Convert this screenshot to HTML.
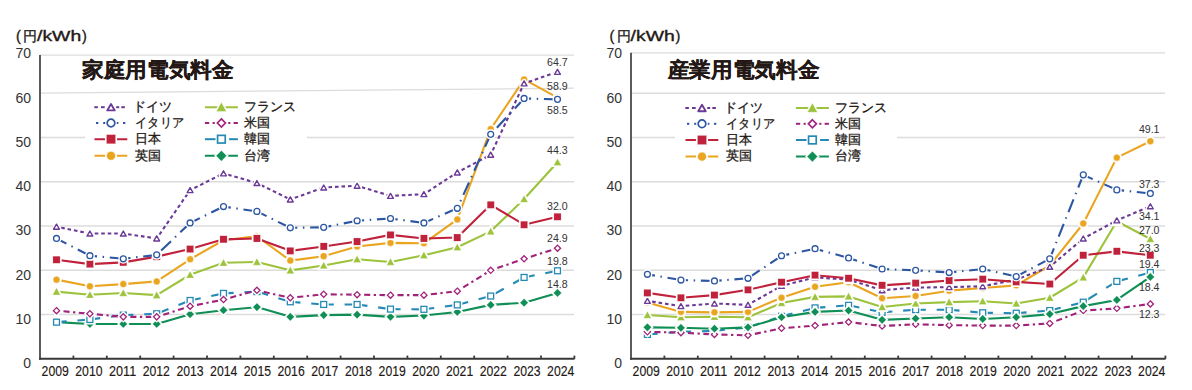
<!DOCTYPE html>
<html><head><meta charset="utf-8"><style>
html,body{margin:0;padding:0;background:#fff;width:1192px;height:390px;overflow:hidden}
svg{display:block;font-family:"Liberation Sans",sans-serif}
</style></head><body>
<svg width="1192" height="390" viewBox="0 0 1192 390">
<rect width="1192" height="390" fill="#fff"/>
<text x="16.00" y="41.3" font-size="14.5" text-anchor="start" font-weight="normal" fill="#231815" stroke="#231815" stroke-width="0.35">(</text>
<text x="23.30" y="41.0" font-size="14.0" text-anchor="start" font-weight="normal" fill="#231815" stroke="#231815" stroke-width="0.35">円</text>
<text x="37.00" y="41.3" font-size="14.5" text-anchor="start" font-weight="normal" fill="#231815" textLength="44.2" lengthAdjust="spacingAndGlyphs" stroke="#231815" stroke-width="0.35">/kWh</text>
<text x="82.00" y="41.3" font-size="14.5" text-anchor="start" font-weight="normal" fill="#231815" stroke="#231815" stroke-width="0.35">)</text>
<line x1="40" y1="314.50" x2="574" y2="314.50" stroke="#dcdcdc" stroke-width="1.3"/>
<line x1="40" y1="270.25" x2="574" y2="270.25" stroke="#dcdcdc" stroke-width="1.3"/>
<line x1="40" y1="226.00" x2="574" y2="226.00" stroke="#dcdcdc" stroke-width="1.3"/>
<line x1="40" y1="181.75" x2="574" y2="181.75" stroke="#dcdcdc" stroke-width="1.3"/>
<line x1="40" y1="137.50" x2="85" y2="137.50" stroke="#dcdcdc" stroke-width="1.3"/>
<line x1="307" y1="137.50" x2="574" y2="137.50" stroke="#dcdcdc" stroke-width="1.3"/>
<line x1="40" y1="93.1" x2="574" y2="88.2" stroke="#dcdcdc" stroke-width="1.3"/>
<line x1="40" y1="55.2" x2="574" y2="55.2" stroke="#dcdcdc" stroke-width="1.3"/>
<text x="31" y="368.30" font-size="14" text-anchor="end" font-weight="normal" fill="#333">0</text>
<text x="31" y="324.02" font-size="14" text-anchor="end" font-weight="normal" fill="#333">10</text>
<text x="31" y="279.74" font-size="14" text-anchor="end" font-weight="normal" fill="#333">20</text>
<text x="31" y="235.46" font-size="14" text-anchor="end" font-weight="normal" fill="#333">30</text>
<text x="31" y="191.18" font-size="14" text-anchor="end" font-weight="normal" fill="#333">40</text>
<text x="31" y="146.90" font-size="14" text-anchor="end" font-weight="normal" fill="#333">50</text>
<text x="31" y="102.62" font-size="14" text-anchor="end" font-weight="normal" fill="#333">60</text>
<text x="31" y="58.34" font-size="14" text-anchor="end" font-weight="normal" fill="#333">70</text>
<text x="82.00" y="77.0" font-size="21" text-anchor="start" font-weight="bold" fill="#231815" textLength="151.5" lengthAdjust="spacingAndGlyphs" stroke="#231815" stroke-width="0.25">家庭用電気料金</text>
<line x1="94.30" y1="107.2" x2="97.90" y2="107.2" stroke="#6b3a96" stroke-width="2.0"/><line x1="101.00" y1="107.2" x2="104.70" y2="107.2" stroke="#6b3a96" stroke-width="2.0"/><line x1="116.20" y1="107.2" x2="119.20" y2="107.2" stroke="#6b3a96" stroke-width="2.0"/><line x1="121.30" y1="107.2" x2="124.90" y2="107.2" stroke="#6b3a96" stroke-width="2.0"/><g transform="translate(111.00 107.20) scale(1.3)"><path d="M0.00 -2.50L2.90 2.50L-2.90 2.50Z" fill="#fff" stroke="#fff" stroke-width="3.25" stroke-linejoin="round"/><path d="M0.00 -2.50L2.90 2.50L-2.90 2.50Z" fill="#fff" stroke="#6b3a96" stroke-width="1.4" stroke-linejoin="round"/></g>
<text x="133.3" y="110.9" font-size="12.5" text-anchor="start" font-weight="normal" fill="#231815" stroke="#231815" stroke-width="0.3">ドイツ</text>
<line x1="96.00" y1="123.0" x2="98.30" y2="123.0" stroke="#2c56a1" stroke-width="2.0"/><line x1="103.20" y1="123.0" x2="106.00" y2="123.0" stroke="#2c56a1" stroke-width="2.0"/><line x1="116.00" y1="123.0" x2="118.40" y2="123.0" stroke="#2c56a1" stroke-width="2.0"/><line x1="123.00" y1="123.0" x2="125.30" y2="123.0" stroke="#2c56a1" stroke-width="2.0"/><g transform="translate(111.00 123.00) scale(1.3)"><circle cx="0.00" cy="0.00" r="2.95" fill="#fff" stroke="#fff" stroke-width="3.15"/><circle cx="0.00" cy="0.00" r="2.95" fill="#fff" stroke="#2c56a1" stroke-width="1.3"/></g>
<text x="135.3" y="126.7" font-size="12.5" text-anchor="start" font-weight="normal" fill="#231815" textLength="48.5" lengthAdjust="spacingAndGlyphs" stroke="#231815" stroke-width="0.3">イタリア</text>
<line x1="94.50" y1="139.2" x2="127.30" y2="139.2" stroke="#c0213b" stroke-width="2.0"/><g transform="translate(111.00 139.20) scale(1.3)"><rect x="-3.60" y="-3.60" width="7.2" height="7.2" fill="#fff" stroke="#fff" stroke-width="2.15"/><rect x="-3.60" y="-3.60" width="7.2" height="7.2" fill="#c0213b" stroke="#fff" stroke-width="0.3"/></g>
<text x="135.3" y="142.89999999999998" font-size="12.5" text-anchor="start" font-weight="normal" fill="#231815" stroke="#231815" stroke-width="0.3">日本</text>
<line x1="94.50" y1="155.8" x2="127.30" y2="155.8" stroke="#eaa520" stroke-width="2.0"/><g transform="translate(111.00 155.80) scale(1.3)"><circle cx="0.00" cy="0.00" r="3.5" fill="#fff" stroke="#fff" stroke-width="2.35"/><circle cx="0.00" cy="0.00" r="3.5" fill="#eaa520" stroke="#fff" stroke-width="0.5"/></g>
<text x="135.3" y="159.5" font-size="12.5" text-anchor="start" font-weight="normal" fill="#231815" stroke="#231815" stroke-width="0.3">英国</text>
<line x1="204.90" y1="107.2" x2="237.90" y2="107.2" stroke="#9cc33b" stroke-width="2.0"/><g transform="translate(221.40 107.20) scale(1.3)"><path d="M0.00 -3.80L3.90 3.30L-3.90 3.30Z" fill="#fff" stroke="#fff" stroke-width="2.15"/><path d="M0.00 -3.80L3.90 3.30L-3.90 3.30Z" fill="#9cc33b" stroke="#fff" stroke-width="0.3"/></g>
<text x="244.4" y="110.9" font-size="12.5" text-anchor="start" font-weight="normal" fill="#231815" stroke="#231815" stroke-width="0.3">フランス</text>
<line x1="204.90" y1="123.0" x2="209.20" y2="123.0" stroke="#a0237b" stroke-width="2.0"/><line x1="212.60" y1="123.0" x2="214.90" y2="123.0" stroke="#a0237b" stroke-width="2.0"/><line x1="228.20" y1="123.0" x2="230.40" y2="123.0" stroke="#a0237b" stroke-width="2.0"/><line x1="233.60" y1="123.0" x2="237.90" y2="123.0" stroke="#a0237b" stroke-width="2.0"/><g transform="translate(221.40 123.00) scale(1.3)"><path d="M0.00 -3.10L3.10 0.00L0.00 3.10L-3.10 0.00Z" fill="#fff" stroke="#fff" stroke-width="3.15"/><path d="M0.00 -3.10L3.10 0.00L0.00 3.10L-3.10 0.00Z" fill="#fff" stroke="#a0237b" stroke-width="1.3"/></g>
<text x="244.4" y="126.7" font-size="12.5" text-anchor="start" font-weight="normal" fill="#231815" stroke="#231815" stroke-width="0.3">米国</text>
<line x1="204.90" y1="139.2" x2="216.00" y2="139.2" stroke="#2489b4" stroke-width="2.0"/><line x1="229.10" y1="139.2" x2="237.90" y2="139.2" stroke="#2489b4" stroke-width="2.0"/><g transform="translate(221.40 139.20) scale(1.3)"><rect x="-2.95" y="-2.95" width="5.9" height="5.9" fill="#fff" stroke="#fff" stroke-width="3.15"/><rect x="-2.95" y="-2.95" width="5.9" height="5.9" fill="#fff" stroke="#2489b4" stroke-width="1.3"/></g>
<text x="244.4" y="142.89999999999998" font-size="12.5" text-anchor="start" font-weight="normal" fill="#231815" stroke="#231815" stroke-width="0.3">韓国</text>
<line x1="204.90" y1="155.8" x2="237.90" y2="155.8" stroke="#0f8f55" stroke-width="2.0"/><g transform="translate(221.40 155.80) scale(1.3)"><path d="M0.00 -4.10L4.10 0.00L0.00 4.10L-4.10 0.00Z" fill="#fff" stroke="#fff" stroke-width="2.15"/><path d="M0.00 -4.10L4.10 0.00L0.00 4.10L-4.10 0.00Z" fill="#0f8f55" stroke="#fff" stroke-width="0.3"/></g>
<text x="244.4" y="159.5" font-size="12.5" text-anchor="start" font-weight="normal" fill="#231815" stroke="#231815" stroke-width="0.3">台湾</text>
<polyline points="56.50,322.17 89.90,323.95 123.30,323.95 156.70,323.95 190.10,314.20 223.50,310.21 256.90,307.11 290.30,316.86 323.70,315.09 357.10,314.64 390.50,316.86 423.90,315.53 457.30,311.99 490.70,304.90 524.10,302.68 557.50,292.94" fill="none" stroke="#0f8f55" stroke-width="2.1" stroke-linejoin="round"/>
<path d="M56.50 318.07L60.60 322.17L56.50 326.27L52.40 322.17Z" fill="#fff" stroke="#fff" stroke-width="3.10"/><path d="M56.50 318.07L60.60 322.17L56.50 326.27L52.40 322.17Z" fill="#0f8f55" stroke="#fff" stroke-width="0.3"/>
<path d="M89.90 319.85L94.00 323.95L89.90 328.05L85.80 323.95Z" fill="#fff" stroke="#fff" stroke-width="3.10"/><path d="M89.90 319.85L94.00 323.95L89.90 328.05L85.80 323.95Z" fill="#0f8f55" stroke="#fff" stroke-width="0.3"/>
<path d="M123.30 319.85L127.40 323.95L123.30 328.05L119.20 323.95Z" fill="#fff" stroke="#fff" stroke-width="3.10"/><path d="M123.30 319.85L127.40 323.95L123.30 328.05L119.20 323.95Z" fill="#0f8f55" stroke="#fff" stroke-width="0.3"/>
<path d="M156.70 319.85L160.80 323.95L156.70 328.05L152.60 323.95Z" fill="#fff" stroke="#fff" stroke-width="3.10"/><path d="M156.70 319.85L160.80 323.95L156.70 328.05L152.60 323.95Z" fill="#0f8f55" stroke="#fff" stroke-width="0.3"/>
<path d="M190.10 310.10L194.20 314.20L190.10 318.30L186.00 314.20Z" fill="#fff" stroke="#fff" stroke-width="3.10"/><path d="M190.10 310.10L194.20 314.20L190.10 318.30L186.00 314.20Z" fill="#0f8f55" stroke="#fff" stroke-width="0.3"/>
<path d="M223.50 306.11L227.60 310.21L223.50 314.31L219.40 310.21Z" fill="#fff" stroke="#fff" stroke-width="3.10"/><path d="M223.50 306.11L227.60 310.21L223.50 314.31L219.40 310.21Z" fill="#0f8f55" stroke="#fff" stroke-width="0.3"/>
<path d="M256.90 303.01L261.00 307.11L256.90 311.21L252.80 307.11Z" fill="#fff" stroke="#fff" stroke-width="3.10"/><path d="M256.90 303.01L261.00 307.11L256.90 311.21L252.80 307.11Z" fill="#0f8f55" stroke="#fff" stroke-width="0.3"/>
<path d="M290.30 312.76L294.40 316.86L290.30 320.96L286.20 316.86Z" fill="#fff" stroke="#fff" stroke-width="3.10"/><path d="M290.30 312.76L294.40 316.86L290.30 320.96L286.20 316.86Z" fill="#0f8f55" stroke="#fff" stroke-width="0.3"/>
<path d="M323.70 310.99L327.80 315.09L323.70 319.19L319.60 315.09Z" fill="#fff" stroke="#fff" stroke-width="3.10"/><path d="M323.70 310.99L327.80 315.09L323.70 319.19L319.60 315.09Z" fill="#0f8f55" stroke="#fff" stroke-width="0.3"/>
<path d="M357.10 310.54L361.20 314.64L357.10 318.74L353.00 314.64Z" fill="#fff" stroke="#fff" stroke-width="3.10"/><path d="M357.10 310.54L361.20 314.64L357.10 318.74L353.00 314.64Z" fill="#0f8f55" stroke="#fff" stroke-width="0.3"/>
<path d="M390.50 312.76L394.60 316.86L390.50 320.96L386.40 316.86Z" fill="#fff" stroke="#fff" stroke-width="3.10"/><path d="M390.50 312.76L394.60 316.86L390.50 320.96L386.40 316.86Z" fill="#0f8f55" stroke="#fff" stroke-width="0.3"/>
<path d="M423.90 311.43L428.00 315.53L423.90 319.63L419.80 315.53Z" fill="#fff" stroke="#fff" stroke-width="3.10"/><path d="M423.90 311.43L428.00 315.53L423.90 319.63L419.80 315.53Z" fill="#0f8f55" stroke="#fff" stroke-width="0.3"/>
<path d="M457.30 307.88L461.40 311.99L457.30 316.09L453.20 311.99Z" fill="#fff" stroke="#fff" stroke-width="3.10"/><path d="M457.30 307.88L461.40 311.99L457.30 316.09L453.20 311.99Z" fill="#0f8f55" stroke="#fff" stroke-width="0.3"/>
<path d="M490.70 300.80L494.80 304.90L490.70 309.00L486.60 304.90Z" fill="#fff" stroke="#fff" stroke-width="3.10"/><path d="M490.70 300.80L494.80 304.90L490.70 309.00L486.60 304.90Z" fill="#0f8f55" stroke="#fff" stroke-width="0.3"/>
<path d="M524.10 298.58L528.20 302.68L524.10 306.78L520.00 302.68Z" fill="#fff" stroke="#fff" stroke-width="3.10"/><path d="M524.10 298.58L528.20 302.68L524.10 306.78L520.00 302.68Z" fill="#0f8f55" stroke="#fff" stroke-width="0.3"/>
<path d="M557.50 288.84L561.60 292.94L557.50 297.04L553.40 292.94Z" fill="#fff" stroke="#fff" stroke-width="3.10"/><path d="M557.50 288.84L561.60 292.94L557.50 297.04L553.40 292.94Z" fill="#0f8f55" stroke="#fff" stroke-width="0.3"/>
<line x1="89.90" y1="319.52" x2="56.50" y2="322.17" stroke="#2489b4" stroke-width="2.1" stroke-dasharray="12.5 10.8" stroke-dashoffset="0"/>
<line x1="123.30" y1="315.09" x2="89.90" y2="319.52" stroke="#2489b4" stroke-width="2.1" stroke-dasharray="12.5 10.8" stroke-dashoffset="0"/>
<line x1="156.70" y1="313.76" x2="123.30" y2="315.09" stroke="#2489b4" stroke-width="2.1" stroke-dasharray="12.5 10.8" stroke-dashoffset="0"/>
<line x1="190.10" y1="300.47" x2="156.70" y2="313.76" stroke="#2489b4" stroke-width="2.1" stroke-dasharray="12.5 10.8" stroke-dashoffset="0"/>
<line x1="223.50" y1="293.38" x2="190.10" y2="300.47" stroke="#2489b4" stroke-width="2.1" stroke-dasharray="12.5 10.8" stroke-dashoffset="0"/>
<line x1="256.90" y1="291.61" x2="223.50" y2="293.38" stroke="#2489b4" stroke-width="2.1" stroke-dasharray="12.5 10.8" stroke-dashoffset="0"/>
<line x1="290.30" y1="301.80" x2="256.90" y2="291.61" stroke="#2489b4" stroke-width="2.1" stroke-dasharray="12.5 10.8" stroke-dashoffset="0"/>
<line x1="323.70" y1="304.45" x2="290.30" y2="301.80" stroke="#2489b4" stroke-width="2.1" stroke-dasharray="12.5 10.8" stroke-dashoffset="0"/>
<line x1="357.10" y1="304.45" x2="323.70" y2="304.45" stroke="#2489b4" stroke-width="2.1" stroke-dasharray="12.5 10.8" stroke-dashoffset="0"/>
<line x1="390.50" y1="309.11" x2="357.10" y2="304.45" stroke="#2489b4" stroke-width="2.1" stroke-dasharray="12.5 10.8" stroke-dashoffset="0"/>
<line x1="423.90" y1="309.33" x2="390.50" y2="309.11" stroke="#2489b4" stroke-width="2.1" stroke-dasharray="12.5 10.8" stroke-dashoffset="0"/>
<line x1="457.30" y1="304.90" x2="423.90" y2="309.33" stroke="#2489b4" stroke-width="2.1" stroke-dasharray="12.5 10.8" stroke-dashoffset="0"/>
<line x1="490.70" y1="296.04" x2="457.30" y2="304.90" stroke="#2489b4" stroke-width="2.1" stroke-dasharray="12.5 10.8" stroke-dashoffset="0"/>
<line x1="524.10" y1="277.43" x2="490.70" y2="296.04" stroke="#2489b4" stroke-width="2.1" stroke-dasharray="12.5 10.8" stroke-dashoffset="0"/>
<line x1="557.50" y1="270.79" x2="524.10" y2="277.43" stroke="#2489b4" stroke-width="2.1" stroke-dasharray="12.5 10.8" stroke-dashoffset="0"/>
<rect x="53.55" y="319.22" width="5.9" height="5.9" fill="#fff" stroke="#fff" stroke-width="4.10"/><rect x="53.55" y="319.22" width="5.9" height="5.9" fill="#fff" stroke="#2489b4" stroke-width="1.3"/>
<rect x="86.95" y="316.57" width="5.9" height="5.9" fill="#fff" stroke="#fff" stroke-width="4.10"/><rect x="86.95" y="316.57" width="5.9" height="5.9" fill="#fff" stroke="#2489b4" stroke-width="1.3"/>
<rect x="120.35" y="312.14" width="5.9" height="5.9" fill="#fff" stroke="#fff" stroke-width="4.10"/><rect x="120.35" y="312.14" width="5.9" height="5.9" fill="#fff" stroke="#2489b4" stroke-width="1.3"/>
<rect x="153.75" y="310.81" width="5.9" height="5.9" fill="#fff" stroke="#fff" stroke-width="4.10"/><rect x="153.75" y="310.81" width="5.9" height="5.9" fill="#fff" stroke="#2489b4" stroke-width="1.3"/>
<rect x="187.15" y="297.52" width="5.9" height="5.9" fill="#fff" stroke="#fff" stroke-width="4.10"/><rect x="187.15" y="297.52" width="5.9" height="5.9" fill="#fff" stroke="#2489b4" stroke-width="1.3"/>
<rect x="220.55" y="290.43" width="5.9" height="5.9" fill="#fff" stroke="#fff" stroke-width="4.10"/><rect x="220.55" y="290.43" width="5.9" height="5.9" fill="#fff" stroke="#2489b4" stroke-width="1.3"/>
<rect x="253.95" y="288.66" width="5.9" height="5.9" fill="#fff" stroke="#fff" stroke-width="4.10"/><rect x="253.95" y="288.66" width="5.9" height="5.9" fill="#fff" stroke="#2489b4" stroke-width="1.3"/>
<rect x="287.35" y="298.85" width="5.9" height="5.9" fill="#fff" stroke="#fff" stroke-width="4.10"/><rect x="287.35" y="298.85" width="5.9" height="5.9" fill="#fff" stroke="#2489b4" stroke-width="1.3"/>
<rect x="320.75" y="301.50" width="5.9" height="5.9" fill="#fff" stroke="#fff" stroke-width="4.10"/><rect x="320.75" y="301.50" width="5.9" height="5.9" fill="#fff" stroke="#2489b4" stroke-width="1.3"/>
<rect x="354.15" y="301.50" width="5.9" height="5.9" fill="#fff" stroke="#fff" stroke-width="4.10"/><rect x="354.15" y="301.50" width="5.9" height="5.9" fill="#fff" stroke="#2489b4" stroke-width="1.3"/>
<rect x="387.55" y="306.16" width="5.9" height="5.9" fill="#fff" stroke="#fff" stroke-width="4.10"/><rect x="387.55" y="306.16" width="5.9" height="5.9" fill="#fff" stroke="#2489b4" stroke-width="1.3"/>
<rect x="420.95" y="306.38" width="5.9" height="5.9" fill="#fff" stroke="#fff" stroke-width="4.10"/><rect x="420.95" y="306.38" width="5.9" height="5.9" fill="#fff" stroke="#2489b4" stroke-width="1.3"/>
<rect x="454.35" y="301.95" width="5.9" height="5.9" fill="#fff" stroke="#fff" stroke-width="4.10"/><rect x="454.35" y="301.95" width="5.9" height="5.9" fill="#fff" stroke="#2489b4" stroke-width="1.3"/>
<rect x="487.75" y="293.09" width="5.9" height="5.9" fill="#fff" stroke="#fff" stroke-width="4.10"/><rect x="487.75" y="293.09" width="5.9" height="5.9" fill="#fff" stroke="#2489b4" stroke-width="1.3"/>
<rect x="521.15" y="274.48" width="5.9" height="5.9" fill="#fff" stroke="#fff" stroke-width="4.10"/><rect x="521.15" y="274.48" width="5.9" height="5.9" fill="#fff" stroke="#2489b4" stroke-width="1.3"/>
<rect x="554.55" y="267.84" width="5.9" height="5.9" fill="#fff" stroke="#fff" stroke-width="4.10"/><rect x="554.55" y="267.84" width="5.9" height="5.9" fill="#fff" stroke="#2489b4" stroke-width="1.3"/>
<line x1="56.50" y1="310.66" x2="89.90" y2="313.76" stroke="#a0237b" stroke-width="2.1" stroke-dasharray="6.1 3.5 2.3 3.5" stroke-dashoffset="8.4"/>
<line x1="89.90" y1="313.76" x2="123.30" y2="316.86" stroke="#a0237b" stroke-width="2.1" stroke-dasharray="6.1 3.5 2.3 3.5" stroke-dashoffset="8.4"/>
<line x1="123.30" y1="316.86" x2="156.70" y2="316.86" stroke="#a0237b" stroke-width="2.1" stroke-dasharray="6.1 3.5 2.3 3.5" stroke-dashoffset="8.4"/>
<line x1="156.70" y1="316.86" x2="190.10" y2="306.23" stroke="#a0237b" stroke-width="2.1" stroke-dasharray="6.1 3.5 2.3 3.5" stroke-dashoffset="8.4"/>
<line x1="190.10" y1="306.23" x2="223.50" y2="299.58" stroke="#a0237b" stroke-width="2.1" stroke-dasharray="6.1 3.5 2.3 3.5" stroke-dashoffset="8.4"/>
<line x1="223.50" y1="299.58" x2="256.90" y2="290.28" stroke="#a0237b" stroke-width="2.1" stroke-dasharray="6.1 3.5 2.3 3.5" stroke-dashoffset="8.4"/>
<line x1="256.90" y1="290.28" x2="290.30" y2="297.81" stroke="#a0237b" stroke-width="2.1" stroke-dasharray="6.1 3.5 2.3 3.5" stroke-dashoffset="8.4"/>
<line x1="290.30" y1="297.81" x2="323.70" y2="294.26" stroke="#a0237b" stroke-width="2.1" stroke-dasharray="6.1 3.5 2.3 3.5" stroke-dashoffset="8.4"/>
<line x1="323.70" y1="294.26" x2="357.10" y2="294.71" stroke="#a0237b" stroke-width="2.1" stroke-dasharray="6.1 3.5 2.3 3.5" stroke-dashoffset="8.4"/>
<line x1="357.10" y1="294.71" x2="390.50" y2="295.15" stroke="#a0237b" stroke-width="2.1" stroke-dasharray="6.1 3.5 2.3 3.5" stroke-dashoffset="8.4"/>
<line x1="390.50" y1="295.15" x2="423.90" y2="295.15" stroke="#a0237b" stroke-width="2.1" stroke-dasharray="6.1 3.5 2.3 3.5" stroke-dashoffset="8.4"/>
<line x1="423.90" y1="295.15" x2="457.30" y2="291.16" stroke="#a0237b" stroke-width="2.1" stroke-dasharray="6.1 3.5 2.3 3.5" stroke-dashoffset="8.4"/>
<line x1="457.30" y1="291.16" x2="490.70" y2="270.34" stroke="#a0237b" stroke-width="2.1" stroke-dasharray="6.1 3.5 2.3 3.5" stroke-dashoffset="8.4"/>
<line x1="490.70" y1="270.34" x2="524.10" y2="258.82" stroke="#a0237b" stroke-width="2.1" stroke-dasharray="6.1 3.5 2.3 3.5" stroke-dashoffset="8.4"/>
<line x1="524.10" y1="258.82" x2="557.50" y2="248.19" stroke="#a0237b" stroke-width="2.1" stroke-dasharray="6.1 3.5 2.3 3.5" stroke-dashoffset="8.4"/>
<path d="M56.50 307.56L59.60 310.66L56.50 313.76L53.40 310.66Z" fill="#fff" stroke="#fff" stroke-width="4.10"/><path d="M56.50 307.56L59.60 310.66L56.50 313.76L53.40 310.66Z" fill="#fff" stroke="#a0237b" stroke-width="1.3"/>
<path d="M89.90 310.66L93.00 313.76L89.90 316.86L86.80 313.76Z" fill="#fff" stroke="#fff" stroke-width="4.10"/><path d="M89.90 310.66L93.00 313.76L89.90 316.86L86.80 313.76Z" fill="#fff" stroke="#a0237b" stroke-width="1.3"/>
<path d="M123.30 313.76L126.40 316.86L123.30 319.96L120.20 316.86Z" fill="#fff" stroke="#fff" stroke-width="4.10"/><path d="M123.30 313.76L126.40 316.86L123.30 319.96L120.20 316.86Z" fill="#fff" stroke="#a0237b" stroke-width="1.3"/>
<path d="M156.70 313.76L159.80 316.86L156.70 319.96L153.60 316.86Z" fill="#fff" stroke="#fff" stroke-width="4.10"/><path d="M156.70 313.76L159.80 316.86L156.70 319.96L153.60 316.86Z" fill="#fff" stroke="#a0237b" stroke-width="1.3"/>
<path d="M190.10 303.13L193.20 306.23L190.10 309.33L187.00 306.23Z" fill="#fff" stroke="#fff" stroke-width="4.10"/><path d="M190.10 303.13L193.20 306.23L190.10 309.33L187.00 306.23Z" fill="#fff" stroke="#a0237b" stroke-width="1.3"/>
<path d="M223.50 296.48L226.60 299.58L223.50 302.68L220.40 299.58Z" fill="#fff" stroke="#fff" stroke-width="4.10"/><path d="M223.50 296.48L226.60 299.58L223.50 302.68L220.40 299.58Z" fill="#fff" stroke="#a0237b" stroke-width="1.3"/>
<path d="M256.90 287.18L260.00 290.28L256.90 293.38L253.80 290.28Z" fill="#fff" stroke="#fff" stroke-width="4.10"/><path d="M256.90 287.18L260.00 290.28L256.90 293.38L253.80 290.28Z" fill="#fff" stroke="#a0237b" stroke-width="1.3"/>
<path d="M290.30 294.71L293.40 297.81L290.30 300.91L287.20 297.81Z" fill="#fff" stroke="#fff" stroke-width="4.10"/><path d="M290.30 294.71L293.40 297.81L290.30 300.91L287.20 297.81Z" fill="#fff" stroke="#a0237b" stroke-width="1.3"/>
<path d="M323.70 291.16L326.80 294.26L323.70 297.37L320.60 294.26Z" fill="#fff" stroke="#fff" stroke-width="4.10"/><path d="M323.70 291.16L326.80 294.26L323.70 297.37L320.60 294.26Z" fill="#fff" stroke="#a0237b" stroke-width="1.3"/>
<path d="M357.10 291.61L360.20 294.71L357.10 297.81L354.00 294.71Z" fill="#fff" stroke="#fff" stroke-width="4.10"/><path d="M357.10 291.61L360.20 294.71L357.10 297.81L354.00 294.71Z" fill="#fff" stroke="#a0237b" stroke-width="1.3"/>
<path d="M390.50 292.05L393.60 295.15L390.50 298.25L387.40 295.15Z" fill="#fff" stroke="#fff" stroke-width="4.10"/><path d="M390.50 292.05L393.60 295.15L390.50 298.25L387.40 295.15Z" fill="#fff" stroke="#a0237b" stroke-width="1.3"/>
<path d="M423.90 292.05L427.00 295.15L423.90 298.25L420.80 295.15Z" fill="#fff" stroke="#fff" stroke-width="4.10"/><path d="M423.90 292.05L427.00 295.15L423.90 298.25L420.80 295.15Z" fill="#fff" stroke="#a0237b" stroke-width="1.3"/>
<path d="M457.30 288.06L460.40 291.16L457.30 294.26L454.20 291.16Z" fill="#fff" stroke="#fff" stroke-width="4.10"/><path d="M457.30 288.06L460.40 291.16L457.30 294.26L454.20 291.16Z" fill="#fff" stroke="#a0237b" stroke-width="1.3"/>
<path d="M490.70 267.24L493.80 270.34L490.70 273.44L487.60 270.34Z" fill="#fff" stroke="#fff" stroke-width="4.10"/><path d="M490.70 267.24L493.80 270.34L490.70 273.44L487.60 270.34Z" fill="#fff" stroke="#a0237b" stroke-width="1.3"/>
<path d="M524.10 255.72L527.20 258.82L524.10 261.93L521.00 258.82Z" fill="#fff" stroke="#fff" stroke-width="4.10"/><path d="M524.10 255.72L527.20 258.82L524.10 261.93L521.00 258.82Z" fill="#fff" stroke="#a0237b" stroke-width="1.3"/>
<path d="M557.50 245.09L560.60 248.19L557.50 251.29L554.40 248.19Z" fill="#fff" stroke="#fff" stroke-width="4.10"/><path d="M557.50 245.09L560.60 248.19L557.50 251.29L554.40 248.19Z" fill="#fff" stroke="#a0237b" stroke-width="1.3"/>
<polyline points="56.50,291.61 89.90,294.71 123.30,292.94 156.70,295.15 190.10,274.77 223.50,262.81 256.90,261.93 290.30,270.34 323.70,265.47 357.10,259.27 390.50,261.93 423.90,255.28 457.30,247.31 490.70,231.36 524.10,199.02 557.50,162.25" fill="none" stroke="#9cc33b" stroke-width="2.1" stroke-linejoin="round"/>
<path d="M56.50 287.81L60.40 294.91L52.60 294.91Z" fill="#fff" stroke="#fff" stroke-width="3.10"/><path d="M56.50 287.81L60.40 294.91L52.60 294.91Z" fill="#9cc33b" stroke="#fff" stroke-width="0.3"/>
<path d="M89.90 290.91L93.80 298.01L86.00 298.01Z" fill="#fff" stroke="#fff" stroke-width="3.10"/><path d="M89.90 290.91L93.80 298.01L86.00 298.01Z" fill="#9cc33b" stroke="#fff" stroke-width="0.3"/>
<path d="M123.30 289.14L127.20 296.24L119.40 296.24Z" fill="#fff" stroke="#fff" stroke-width="3.10"/><path d="M123.30 289.14L127.20 296.24L119.40 296.24Z" fill="#9cc33b" stroke="#fff" stroke-width="0.3"/>
<path d="M156.70 291.35L160.60 298.45L152.80 298.45Z" fill="#fff" stroke="#fff" stroke-width="3.10"/><path d="M156.70 291.35L160.60 298.45L152.80 298.45Z" fill="#9cc33b" stroke="#fff" stroke-width="0.3"/>
<path d="M190.10 270.97L194.00 278.07L186.20 278.07Z" fill="#fff" stroke="#fff" stroke-width="3.10"/><path d="M190.10 270.97L194.00 278.07L186.20 278.07Z" fill="#9cc33b" stroke="#fff" stroke-width="0.3"/>
<path d="M223.50 259.01L227.40 266.11L219.60 266.11Z" fill="#fff" stroke="#fff" stroke-width="3.10"/><path d="M223.50 259.01L227.40 266.11L219.60 266.11Z" fill="#9cc33b" stroke="#fff" stroke-width="0.3"/>
<path d="M256.90 258.13L260.80 265.23L253.00 265.23Z" fill="#fff" stroke="#fff" stroke-width="3.10"/><path d="M256.90 258.13L260.80 265.23L253.00 265.23Z" fill="#9cc33b" stroke="#fff" stroke-width="0.3"/>
<path d="M290.30 266.54L294.20 273.64L286.40 273.64Z" fill="#fff" stroke="#fff" stroke-width="3.10"/><path d="M290.30 266.54L294.20 273.64L286.40 273.64Z" fill="#9cc33b" stroke="#fff" stroke-width="0.3"/>
<path d="M323.70 261.67L327.60 268.77L319.80 268.77Z" fill="#fff" stroke="#fff" stroke-width="3.10"/><path d="M323.70 261.67L327.60 268.77L319.80 268.77Z" fill="#9cc33b" stroke="#fff" stroke-width="0.3"/>
<path d="M357.10 255.47L361.00 262.57L353.20 262.57Z" fill="#fff" stroke="#fff" stroke-width="3.10"/><path d="M357.10 255.47L361.00 262.57L353.20 262.57Z" fill="#9cc33b" stroke="#fff" stroke-width="0.3"/>
<path d="M390.50 258.13L394.40 265.23L386.60 265.23Z" fill="#fff" stroke="#fff" stroke-width="3.10"/><path d="M390.50 258.13L394.40 265.23L386.60 265.23Z" fill="#9cc33b" stroke="#fff" stroke-width="0.3"/>
<path d="M423.90 251.48L427.80 258.58L420.00 258.58Z" fill="#fff" stroke="#fff" stroke-width="3.10"/><path d="M423.90 251.48L427.80 258.58L420.00 258.58Z" fill="#9cc33b" stroke="#fff" stroke-width="0.3"/>
<path d="M457.30 243.51L461.20 250.61L453.40 250.61Z" fill="#fff" stroke="#fff" stroke-width="3.10"/><path d="M457.30 243.51L461.20 250.61L453.40 250.61Z" fill="#9cc33b" stroke="#fff" stroke-width="0.3"/>
<path d="M490.70 227.56L494.60 234.66L486.80 234.66Z" fill="#fff" stroke="#fff" stroke-width="3.10"/><path d="M490.70 227.56L494.60 234.66L486.80 234.66Z" fill="#9cc33b" stroke="#fff" stroke-width="0.3"/>
<path d="M524.10 195.22L528.00 202.32L520.20 202.32Z" fill="#fff" stroke="#fff" stroke-width="3.10"/><path d="M524.10 195.22L528.00 202.32L520.20 202.32Z" fill="#9cc33b" stroke="#fff" stroke-width="0.3"/>
<path d="M557.50 158.45L561.40 165.55L553.60 165.55Z" fill="#fff" stroke="#fff" stroke-width="3.10"/><path d="M557.50 158.45L561.40 165.55L553.60 165.55Z" fill="#9cc33b" stroke="#fff" stroke-width="0.3"/>
<polyline points="56.50,279.65 89.90,286.29 123.30,284.08 156.70,281.42 190.10,259.27 223.50,240.22 256.90,236.23 290.30,260.60 323.70,256.17 357.10,246.42 390.50,242.88 423.90,243.32 457.30,219.40 490.70,129.03 524.10,79.41 557.50,97.57" fill="none" stroke="#eaa520" stroke-width="2.1" stroke-linejoin="round"/>
<circle cx="56.50" cy="279.65" r="3.5" fill="#fff" stroke="#fff" stroke-width="3.30"/><circle cx="56.50" cy="279.65" r="3.5" fill="#eaa520" stroke="#fff" stroke-width="0.5"/>
<circle cx="89.90" cy="286.29" r="3.5" fill="#fff" stroke="#fff" stroke-width="3.30"/><circle cx="89.90" cy="286.29" r="3.5" fill="#eaa520" stroke="#fff" stroke-width="0.5"/>
<circle cx="123.30" cy="284.08" r="3.5" fill="#fff" stroke="#fff" stroke-width="3.30"/><circle cx="123.30" cy="284.08" r="3.5" fill="#eaa520" stroke="#fff" stroke-width="0.5"/>
<circle cx="156.70" cy="281.42" r="3.5" fill="#fff" stroke="#fff" stroke-width="3.30"/><circle cx="156.70" cy="281.42" r="3.5" fill="#eaa520" stroke="#fff" stroke-width="0.5"/>
<circle cx="190.10" cy="259.27" r="3.5" fill="#fff" stroke="#fff" stroke-width="3.30"/><circle cx="190.10" cy="259.27" r="3.5" fill="#eaa520" stroke="#fff" stroke-width="0.5"/>
<circle cx="223.50" cy="240.22" r="3.5" fill="#fff" stroke="#fff" stroke-width="3.30"/><circle cx="223.50" cy="240.22" r="3.5" fill="#eaa520" stroke="#fff" stroke-width="0.5"/>
<circle cx="256.90" cy="236.23" r="3.5" fill="#fff" stroke="#fff" stroke-width="3.30"/><circle cx="256.90" cy="236.23" r="3.5" fill="#eaa520" stroke="#fff" stroke-width="0.5"/>
<circle cx="290.30" cy="260.60" r="3.5" fill="#fff" stroke="#fff" stroke-width="3.30"/><circle cx="290.30" cy="260.60" r="3.5" fill="#eaa520" stroke="#fff" stroke-width="0.5"/>
<circle cx="323.70" cy="256.17" r="3.5" fill="#fff" stroke="#fff" stroke-width="3.30"/><circle cx="323.70" cy="256.17" r="3.5" fill="#eaa520" stroke="#fff" stroke-width="0.5"/>
<circle cx="357.10" cy="246.42" r="3.5" fill="#fff" stroke="#fff" stroke-width="3.30"/><circle cx="357.10" cy="246.42" r="3.5" fill="#eaa520" stroke="#fff" stroke-width="0.5"/>
<circle cx="390.50" cy="242.88" r="3.5" fill="#fff" stroke="#fff" stroke-width="3.30"/><circle cx="390.50" cy="242.88" r="3.5" fill="#eaa520" stroke="#fff" stroke-width="0.5"/>
<circle cx="423.90" cy="243.32" r="3.5" fill="#fff" stroke="#fff" stroke-width="3.30"/><circle cx="423.90" cy="243.32" r="3.5" fill="#eaa520" stroke="#fff" stroke-width="0.5"/>
<circle cx="457.30" cy="219.40" r="3.5" fill="#fff" stroke="#fff" stroke-width="3.30"/><circle cx="457.30" cy="219.40" r="3.5" fill="#eaa520" stroke="#fff" stroke-width="0.5"/>
<circle cx="490.70" cy="129.03" r="3.5" fill="#fff" stroke="#fff" stroke-width="3.30"/><circle cx="490.70" cy="129.03" r="3.5" fill="#eaa520" stroke="#fff" stroke-width="0.5"/>
<circle cx="524.10" cy="79.41" r="3.5" fill="#fff" stroke="#fff" stroke-width="3.30"/><circle cx="524.10" cy="79.41" r="3.5" fill="#eaa520" stroke="#fff" stroke-width="0.5"/>
<circle cx="557.50" cy="97.57" r="3.5" fill="#fff" stroke="#fff" stroke-width="3.30"/><circle cx="557.50" cy="97.57" r="3.5" fill="#eaa520" stroke="#fff" stroke-width="0.5"/>
<line x1="56.50" y1="226.71" x2="89.90" y2="233.57" stroke="#6b3a96" stroke-width="2.1" stroke-dasharray="3.6 2.9" stroke-dashoffset="1.7"/>
<line x1="89.90" y1="233.57" x2="123.30" y2="233.57" stroke="#6b3a96" stroke-width="2.1" stroke-dasharray="3.6 2.9" stroke-dashoffset="1.7"/>
<line x1="123.30" y1="233.57" x2="156.70" y2="238.45" stroke="#6b3a96" stroke-width="2.1" stroke-dasharray="3.6 2.9" stroke-dashoffset="1.7"/>
<line x1="156.70" y1="238.45" x2="190.10" y2="190.16" stroke="#6b3a96" stroke-width="2.1" stroke-dasharray="3.6 2.9" stroke-dashoffset="1.7"/>
<line x1="190.10" y1="190.16" x2="223.50" y2="173.33" stroke="#6b3a96" stroke-width="2.1" stroke-dasharray="3.6 2.9" stroke-dashoffset="1.7"/>
<line x1="223.50" y1="173.33" x2="256.90" y2="183.07" stroke="#6b3a96" stroke-width="2.1" stroke-dasharray="3.6 2.9" stroke-dashoffset="1.7"/>
<line x1="256.90" y1="183.07" x2="290.30" y2="199.46" stroke="#6b3a96" stroke-width="2.1" stroke-dasharray="3.6 2.9" stroke-dashoffset="1.7"/>
<line x1="290.30" y1="199.46" x2="323.70" y2="187.50" stroke="#6b3a96" stroke-width="2.1" stroke-dasharray="3.6 2.9" stroke-dashoffset="1.7"/>
<line x1="323.70" y1="187.50" x2="357.10" y2="185.73" stroke="#6b3a96" stroke-width="2.1" stroke-dasharray="3.6 2.9" stroke-dashoffset="1.7"/>
<line x1="357.10" y1="185.73" x2="390.50" y2="195.92" stroke="#6b3a96" stroke-width="2.1" stroke-dasharray="3.6 2.9" stroke-dashoffset="1.7"/>
<line x1="390.50" y1="195.92" x2="423.90" y2="194.15" stroke="#6b3a96" stroke-width="2.1" stroke-dasharray="3.6 2.9" stroke-dashoffset="1.7"/>
<line x1="423.90" y1="194.15" x2="457.30" y2="172.44" stroke="#6b3a96" stroke-width="2.1" stroke-dasharray="3.6 2.9" stroke-dashoffset="1.7"/>
<line x1="457.30" y1="172.44" x2="490.70" y2="154.72" stroke="#6b3a96" stroke-width="2.1" stroke-dasharray="3.6 2.9" stroke-dashoffset="1.7"/>
<line x1="490.70" y1="154.72" x2="524.10" y2="83.40" stroke="#6b3a96" stroke-width="2.1" stroke-dasharray="3.6 2.9" stroke-dashoffset="1.7"/>
<line x1="524.10" y1="83.40" x2="557.50" y2="71.88" stroke="#6b3a96" stroke-width="2.1" stroke-dasharray="3.6 2.9" stroke-dashoffset="1.7"/>
<path d="M56.50 224.21L59.40 229.21L53.60 229.21Z" fill="#fff" stroke="#fff" stroke-width="4.20" stroke-linejoin="round"/><path d="M56.50 224.21L59.40 229.21L53.60 229.21Z" fill="#fff" stroke="#6b3a96" stroke-width="1.4" stroke-linejoin="round"/>
<path d="M89.90 231.07L92.80 236.07L87.00 236.07Z" fill="#fff" stroke="#fff" stroke-width="4.20" stroke-linejoin="round"/><path d="M89.90 231.07L92.80 236.07L87.00 236.07Z" fill="#fff" stroke="#6b3a96" stroke-width="1.4" stroke-linejoin="round"/>
<path d="M123.30 231.07L126.20 236.07L120.40 236.07Z" fill="#fff" stroke="#fff" stroke-width="4.20" stroke-linejoin="round"/><path d="M123.30 231.07L126.20 236.07L120.40 236.07Z" fill="#fff" stroke="#6b3a96" stroke-width="1.4" stroke-linejoin="round"/>
<path d="M156.70 235.95L159.60 240.95L153.80 240.95Z" fill="#fff" stroke="#fff" stroke-width="4.20" stroke-linejoin="round"/><path d="M156.70 235.95L159.60 240.95L153.80 240.95Z" fill="#fff" stroke="#6b3a96" stroke-width="1.4" stroke-linejoin="round"/>
<path d="M190.10 187.66L193.00 192.66L187.20 192.66Z" fill="#fff" stroke="#fff" stroke-width="4.20" stroke-linejoin="round"/><path d="M190.10 187.66L193.00 192.66L187.20 192.66Z" fill="#fff" stroke="#6b3a96" stroke-width="1.4" stroke-linejoin="round"/>
<path d="M223.50 170.83L226.40 175.83L220.60 175.83Z" fill="#fff" stroke="#fff" stroke-width="4.20" stroke-linejoin="round"/><path d="M223.50 170.83L226.40 175.83L220.60 175.83Z" fill="#fff" stroke="#6b3a96" stroke-width="1.4" stroke-linejoin="round"/>
<path d="M256.90 180.57L259.80 185.57L254.00 185.57Z" fill="#fff" stroke="#fff" stroke-width="4.20" stroke-linejoin="round"/><path d="M256.90 180.57L259.80 185.57L254.00 185.57Z" fill="#fff" stroke="#6b3a96" stroke-width="1.4" stroke-linejoin="round"/>
<path d="M290.30 196.96L293.20 201.96L287.40 201.96Z" fill="#fff" stroke="#fff" stroke-width="4.20" stroke-linejoin="round"/><path d="M290.30 196.96L293.20 201.96L287.40 201.96Z" fill="#fff" stroke="#6b3a96" stroke-width="1.4" stroke-linejoin="round"/>
<path d="M323.70 185.00L326.60 190.00L320.80 190.00Z" fill="#fff" stroke="#fff" stroke-width="4.20" stroke-linejoin="round"/><path d="M323.70 185.00L326.60 190.00L320.80 190.00Z" fill="#fff" stroke="#6b3a96" stroke-width="1.4" stroke-linejoin="round"/>
<path d="M357.10 183.23L360.00 188.23L354.20 188.23Z" fill="#fff" stroke="#fff" stroke-width="4.20" stroke-linejoin="round"/><path d="M357.10 183.23L360.00 188.23L354.20 188.23Z" fill="#fff" stroke="#6b3a96" stroke-width="1.4" stroke-linejoin="round"/>
<path d="M390.50 193.42L393.40 198.42L387.60 198.42Z" fill="#fff" stroke="#fff" stroke-width="4.20" stroke-linejoin="round"/><path d="M390.50 193.42L393.40 198.42L387.60 198.42Z" fill="#fff" stroke="#6b3a96" stroke-width="1.4" stroke-linejoin="round"/>
<path d="M423.90 191.65L426.80 196.65L421.00 196.65Z" fill="#fff" stroke="#fff" stroke-width="4.20" stroke-linejoin="round"/><path d="M423.90 191.65L426.80 196.65L421.00 196.65Z" fill="#fff" stroke="#6b3a96" stroke-width="1.4" stroke-linejoin="round"/>
<path d="M457.30 169.94L460.20 174.94L454.40 174.94Z" fill="#fff" stroke="#fff" stroke-width="4.20" stroke-linejoin="round"/><path d="M457.30 169.94L460.20 174.94L454.40 174.94Z" fill="#fff" stroke="#6b3a96" stroke-width="1.4" stroke-linejoin="round"/>
<path d="M490.70 152.22L493.60 157.22L487.80 157.22Z" fill="#fff" stroke="#fff" stroke-width="4.20" stroke-linejoin="round"/><path d="M490.70 152.22L493.60 157.22L487.80 157.22Z" fill="#fff" stroke="#6b3a96" stroke-width="1.4" stroke-linejoin="round"/>
<path d="M524.10 80.90L527.00 85.90L521.20 85.90Z" fill="#fff" stroke="#fff" stroke-width="4.20" stroke-linejoin="round"/><path d="M524.10 80.90L527.00 85.90L521.20 85.90Z" fill="#fff" stroke="#6b3a96" stroke-width="1.4" stroke-linejoin="round"/>
<path d="M557.50 69.38L560.40 74.38L554.60 74.38Z" fill="#fff" stroke="#fff" stroke-width="4.20" stroke-linejoin="round"/><path d="M557.50 69.38L560.40 74.38L554.60 74.38Z" fill="#fff" stroke="#6b3a96" stroke-width="1.4" stroke-linejoin="round"/>
<polyline points="56.50,259.71 89.90,264.14 123.30,262.37 156.70,256.61 190.10,249.08 223.50,239.33 256.90,238.45 290.30,250.85 323.70,246.42 357.10,241.55 390.50,234.90 423.90,238.45 457.30,237.56 490.70,204.78 524.10,224.71 557.50,216.74" fill="none" stroke="#c0213b" stroke-width="2.1" stroke-linejoin="round"/>
<rect x="52.90" y="256.11" width="7.2" height="7.2" fill="#fff" stroke="#fff" stroke-width="3.10"/><rect x="52.90" y="256.11" width="7.2" height="7.2" fill="#c0213b" stroke="#fff" stroke-width="0.3"/>
<rect x="86.30" y="260.54" width="7.2" height="7.2" fill="#fff" stroke="#fff" stroke-width="3.10"/><rect x="86.30" y="260.54" width="7.2" height="7.2" fill="#c0213b" stroke="#fff" stroke-width="0.3"/>
<rect x="119.70" y="258.77" width="7.2" height="7.2" fill="#fff" stroke="#fff" stroke-width="3.10"/><rect x="119.70" y="258.77" width="7.2" height="7.2" fill="#c0213b" stroke="#fff" stroke-width="0.3"/>
<rect x="153.10" y="253.01" width="7.2" height="7.2" fill="#fff" stroke="#fff" stroke-width="3.10"/><rect x="153.10" y="253.01" width="7.2" height="7.2" fill="#c0213b" stroke="#fff" stroke-width="0.3"/>
<rect x="186.50" y="245.48" width="7.2" height="7.2" fill="#fff" stroke="#fff" stroke-width="3.10"/><rect x="186.50" y="245.48" width="7.2" height="7.2" fill="#c0213b" stroke="#fff" stroke-width="0.3"/>
<rect x="219.90" y="235.73" width="7.2" height="7.2" fill="#fff" stroke="#fff" stroke-width="3.10"/><rect x="219.90" y="235.73" width="7.2" height="7.2" fill="#c0213b" stroke="#fff" stroke-width="0.3"/>
<rect x="253.30" y="234.85" width="7.2" height="7.2" fill="#fff" stroke="#fff" stroke-width="3.10"/><rect x="253.30" y="234.85" width="7.2" height="7.2" fill="#c0213b" stroke="#fff" stroke-width="0.3"/>
<rect x="286.70" y="247.25" width="7.2" height="7.2" fill="#fff" stroke="#fff" stroke-width="3.10"/><rect x="286.70" y="247.25" width="7.2" height="7.2" fill="#c0213b" stroke="#fff" stroke-width="0.3"/>
<rect x="320.10" y="242.82" width="7.2" height="7.2" fill="#fff" stroke="#fff" stroke-width="3.10"/><rect x="320.10" y="242.82" width="7.2" height="7.2" fill="#c0213b" stroke="#fff" stroke-width="0.3"/>
<rect x="353.50" y="237.95" width="7.2" height="7.2" fill="#fff" stroke="#fff" stroke-width="3.10"/><rect x="353.50" y="237.95" width="7.2" height="7.2" fill="#c0213b" stroke="#fff" stroke-width="0.3"/>
<rect x="386.90" y="231.30" width="7.2" height="7.2" fill="#fff" stroke="#fff" stroke-width="3.10"/><rect x="386.90" y="231.30" width="7.2" height="7.2" fill="#c0213b" stroke="#fff" stroke-width="0.3"/>
<rect x="420.30" y="234.85" width="7.2" height="7.2" fill="#fff" stroke="#fff" stroke-width="3.10"/><rect x="420.30" y="234.85" width="7.2" height="7.2" fill="#c0213b" stroke="#fff" stroke-width="0.3"/>
<rect x="453.70" y="233.96" width="7.2" height="7.2" fill="#fff" stroke="#fff" stroke-width="3.10"/><rect x="453.70" y="233.96" width="7.2" height="7.2" fill="#c0213b" stroke="#fff" stroke-width="0.3"/>
<rect x="487.10" y="201.18" width="7.2" height="7.2" fill="#fff" stroke="#fff" stroke-width="3.10"/><rect x="487.10" y="201.18" width="7.2" height="7.2" fill="#c0213b" stroke="#fff" stroke-width="0.3"/>
<rect x="520.50" y="221.11" width="7.2" height="7.2" fill="#fff" stroke="#fff" stroke-width="3.10"/><rect x="520.50" y="221.11" width="7.2" height="7.2" fill="#c0213b" stroke="#fff" stroke-width="0.3"/>
<rect x="553.90" y="213.14" width="7.2" height="7.2" fill="#fff" stroke="#fff" stroke-width="3.10"/><rect x="553.90" y="213.14" width="7.2" height="7.2" fill="#c0213b" stroke="#fff" stroke-width="0.3"/>
<line x1="89.90" y1="255.72" x2="56.50" y2="238.45" stroke="#2c56a1" stroke-width="2.1" stroke-dasharray="13.6 5.7 1.5 5.6" stroke-dashoffset="0"/>
<line x1="123.30" y1="258.82" x2="89.90" y2="255.72" stroke="#2c56a1" stroke-width="2.1" stroke-dasharray="13.6 5.7 1.5 5.6" stroke-dashoffset="0"/>
<line x1="156.70" y1="254.84" x2="123.30" y2="258.82" stroke="#2c56a1" stroke-width="2.1" stroke-dasharray="13.6 5.7 1.5 5.6" stroke-dashoffset="0"/>
<line x1="190.10" y1="222.94" x2="156.70" y2="254.84" stroke="#2c56a1" stroke-width="2.1" stroke-dasharray="13.6 5.7 1.5 5.6" stroke-dashoffset="0"/>
<line x1="223.50" y1="206.55" x2="190.10" y2="222.94" stroke="#2c56a1" stroke-width="2.1" stroke-dasharray="13.6 5.7 1.5 5.6" stroke-dashoffset="0"/>
<line x1="256.90" y1="211.42" x2="223.50" y2="206.55" stroke="#2c56a1" stroke-width="2.1" stroke-dasharray="13.6 5.7 1.5 5.6" stroke-dashoffset="0"/>
<line x1="290.30" y1="227.81" x2="256.90" y2="211.42" stroke="#2c56a1" stroke-width="2.1" stroke-dasharray="13.6 5.7 1.5 5.6" stroke-dashoffset="0"/>
<line x1="323.70" y1="227.37" x2="290.30" y2="227.81" stroke="#2c56a1" stroke-width="2.1" stroke-dasharray="13.6 5.7 1.5 5.6" stroke-dashoffset="0"/>
<line x1="357.10" y1="220.73" x2="323.70" y2="227.37" stroke="#2c56a1" stroke-width="2.1" stroke-dasharray="13.6 5.7 1.5 5.6" stroke-dashoffset="0"/>
<line x1="390.50" y1="218.51" x2="357.10" y2="220.73" stroke="#2c56a1" stroke-width="2.1" stroke-dasharray="13.6 5.7 1.5 5.6" stroke-dashoffset="0"/>
<line x1="423.90" y1="222.94" x2="390.50" y2="218.51" stroke="#2c56a1" stroke-width="2.1" stroke-dasharray="13.6 5.7 1.5 5.6" stroke-dashoffset="0"/>
<line x1="457.30" y1="208.32" x2="423.90" y2="222.94" stroke="#2c56a1" stroke-width="2.1" stroke-dasharray="13.6 5.7 1.5 5.6" stroke-dashoffset="0"/>
<line x1="490.70" y1="134.34" x2="457.30" y2="208.32" stroke="#2c56a1" stroke-width="2.1" stroke-dasharray="13.6 5.7 1.5 5.6" stroke-dashoffset="0"/>
<line x1="524.10" y1="98.46" x2="490.70" y2="134.34" stroke="#2c56a1" stroke-width="2.1" stroke-dasharray="13.6 5.7 1.5 5.6" stroke-dashoffset="0"/>
<line x1="557.50" y1="99.35" x2="524.10" y2="98.46" stroke="#2c56a1" stroke-width="2.1" stroke-dasharray="13.6 5.7 1.5 5.6" stroke-dashoffset="0"/>
<circle cx="56.50" cy="238.45" r="2.95" fill="#fff" stroke="#fff" stroke-width="4.10"/><circle cx="56.50" cy="238.45" r="2.95" fill="#fff" stroke="#2c56a1" stroke-width="1.3"/>
<circle cx="89.90" cy="255.72" r="2.95" fill="#fff" stroke="#fff" stroke-width="4.10"/><circle cx="89.90" cy="255.72" r="2.95" fill="#fff" stroke="#2c56a1" stroke-width="1.3"/>
<circle cx="123.30" cy="258.82" r="2.95" fill="#fff" stroke="#fff" stroke-width="4.10"/><circle cx="123.30" cy="258.82" r="2.95" fill="#fff" stroke="#2c56a1" stroke-width="1.3"/>
<circle cx="156.70" cy="254.84" r="2.95" fill="#fff" stroke="#fff" stroke-width="4.10"/><circle cx="156.70" cy="254.84" r="2.95" fill="#fff" stroke="#2c56a1" stroke-width="1.3"/>
<circle cx="190.10" cy="222.94" r="2.95" fill="#fff" stroke="#fff" stroke-width="4.10"/><circle cx="190.10" cy="222.94" r="2.95" fill="#fff" stroke="#2c56a1" stroke-width="1.3"/>
<circle cx="223.50" cy="206.55" r="2.95" fill="#fff" stroke="#fff" stroke-width="4.10"/><circle cx="223.50" cy="206.55" r="2.95" fill="#fff" stroke="#2c56a1" stroke-width="1.3"/>
<circle cx="256.90" cy="211.42" r="2.95" fill="#fff" stroke="#fff" stroke-width="4.10"/><circle cx="256.90" cy="211.42" r="2.95" fill="#fff" stroke="#2c56a1" stroke-width="1.3"/>
<circle cx="290.30" cy="227.81" r="2.95" fill="#fff" stroke="#fff" stroke-width="4.10"/><circle cx="290.30" cy="227.81" r="2.95" fill="#fff" stroke="#2c56a1" stroke-width="1.3"/>
<circle cx="323.70" cy="227.37" r="2.95" fill="#fff" stroke="#fff" stroke-width="4.10"/><circle cx="323.70" cy="227.37" r="2.95" fill="#fff" stroke="#2c56a1" stroke-width="1.3"/>
<circle cx="357.10" cy="220.73" r="2.95" fill="#fff" stroke="#fff" stroke-width="4.10"/><circle cx="357.10" cy="220.73" r="2.95" fill="#fff" stroke="#2c56a1" stroke-width="1.3"/>
<circle cx="390.50" cy="218.51" r="2.95" fill="#fff" stroke="#fff" stroke-width="4.10"/><circle cx="390.50" cy="218.51" r="2.95" fill="#fff" stroke="#2c56a1" stroke-width="1.3"/>
<circle cx="423.90" cy="222.94" r="2.95" fill="#fff" stroke="#fff" stroke-width="4.10"/><circle cx="423.90" cy="222.94" r="2.95" fill="#fff" stroke="#2c56a1" stroke-width="1.3"/>
<circle cx="457.30" cy="208.32" r="2.95" fill="#fff" stroke="#fff" stroke-width="4.10"/><circle cx="457.30" cy="208.32" r="2.95" fill="#fff" stroke="#2c56a1" stroke-width="1.3"/>
<circle cx="490.70" cy="134.34" r="2.95" fill="#fff" stroke="#fff" stroke-width="4.10"/><circle cx="490.70" cy="134.34" r="2.95" fill="#fff" stroke="#2c56a1" stroke-width="1.3"/>
<circle cx="524.10" cy="98.46" r="2.95" fill="#fff" stroke="#fff" stroke-width="4.10"/><circle cx="524.10" cy="98.46" r="2.95" fill="#fff" stroke="#2c56a1" stroke-width="1.3"/>
<circle cx="557.50" cy="99.35" r="2.95" fill="#fff" stroke="#fff" stroke-width="4.10"/><circle cx="557.50" cy="99.35" r="2.95" fill="#fff" stroke="#2c56a1" stroke-width="1.3"/>
<line x1="40" y1="55" x2="40" y2="359.7" stroke="#4a4a4a" stroke-width="1.8"/>
<line x1="39.1" y1="358.8" x2="574.6" y2="358.8" stroke="#383838" stroke-width="2.0"/>
<line x1="73.40" y1="355.6" x2="73.40" y2="358.8" stroke="#3c3c3c" stroke-width="1.8"/>
<line x1="106.80" y1="355.6" x2="106.80" y2="358.8" stroke="#3c3c3c" stroke-width="1.8"/>
<line x1="140.20" y1="355.6" x2="140.20" y2="358.8" stroke="#3c3c3c" stroke-width="1.8"/>
<line x1="173.60" y1="355.6" x2="173.60" y2="358.8" stroke="#3c3c3c" stroke-width="1.8"/>
<line x1="207.00" y1="355.6" x2="207.00" y2="358.8" stroke="#3c3c3c" stroke-width="1.8"/>
<line x1="240.40" y1="355.6" x2="240.40" y2="358.8" stroke="#3c3c3c" stroke-width="1.8"/>
<line x1="273.80" y1="355.6" x2="273.80" y2="358.8" stroke="#3c3c3c" stroke-width="1.8"/>
<line x1="307.20" y1="355.6" x2="307.20" y2="358.8" stroke="#3c3c3c" stroke-width="1.8"/>
<line x1="340.60" y1="355.6" x2="340.60" y2="358.8" stroke="#3c3c3c" stroke-width="1.8"/>
<line x1="374.00" y1="355.6" x2="374.00" y2="358.8" stroke="#3c3c3c" stroke-width="1.8"/>
<line x1="407.40" y1="355.6" x2="407.40" y2="358.8" stroke="#3c3c3c" stroke-width="1.8"/>
<line x1="440.80" y1="355.6" x2="440.80" y2="358.8" stroke="#3c3c3c" stroke-width="1.8"/>
<line x1="474.20" y1="355.6" x2="474.20" y2="358.8" stroke="#3c3c3c" stroke-width="1.8"/>
<line x1="507.60" y1="355.6" x2="507.60" y2="358.8" stroke="#3c3c3c" stroke-width="1.8"/>
<line x1="541.00" y1="355.6" x2="541.00" y2="358.8" stroke="#3c3c3c" stroke-width="1.8"/>
<line x1="574.40" y1="355.6" x2="574.40" y2="358.8" stroke="#3c3c3c" stroke-width="1.8"/>
<text x="41.60" y="375.9" font-size="15.3" text-anchor="start" font-weight="normal" fill="#231815" textLength="27.2" lengthAdjust="spacingAndGlyphs" stroke="#231815" stroke-width="0.15">2009</text>
<text x="75.30" y="375.9" font-size="15.3" text-anchor="start" font-weight="normal" fill="#231815" textLength="27.2" lengthAdjust="spacingAndGlyphs" stroke="#231815" stroke-width="0.15">2010</text>
<text x="109.00" y="375.9" font-size="15.3" text-anchor="start" font-weight="normal" fill="#231815" textLength="27.2" lengthAdjust="spacingAndGlyphs" stroke="#231815" stroke-width="0.15">2011</text>
<text x="142.70" y="375.9" font-size="15.3" text-anchor="start" font-weight="normal" fill="#231815" textLength="27.2" lengthAdjust="spacingAndGlyphs" stroke="#231815" stroke-width="0.15">2012</text>
<text x="176.40" y="375.9" font-size="15.3" text-anchor="start" font-weight="normal" fill="#231815" textLength="27.2" lengthAdjust="spacingAndGlyphs" stroke="#231815" stroke-width="0.15">2013</text>
<text x="210.10" y="375.9" font-size="15.3" text-anchor="start" font-weight="normal" fill="#231815" textLength="27.2" lengthAdjust="spacingAndGlyphs" stroke="#231815" stroke-width="0.15">2014</text>
<text x="243.80" y="375.9" font-size="15.3" text-anchor="start" font-weight="normal" fill="#231815" textLength="27.2" lengthAdjust="spacingAndGlyphs" stroke="#231815" stroke-width="0.15">2015</text>
<text x="277.50" y="375.9" font-size="15.3" text-anchor="start" font-weight="normal" fill="#231815" textLength="27.2" lengthAdjust="spacingAndGlyphs" stroke="#231815" stroke-width="0.15">2016</text>
<text x="311.20" y="375.9" font-size="15.3" text-anchor="start" font-weight="normal" fill="#231815" textLength="27.2" lengthAdjust="spacingAndGlyphs" stroke="#231815" stroke-width="0.15">2017</text>
<text x="344.90" y="375.9" font-size="15.3" text-anchor="start" font-weight="normal" fill="#231815" textLength="27.2" lengthAdjust="spacingAndGlyphs" stroke="#231815" stroke-width="0.15">2018</text>
<text x="378.60" y="375.9" font-size="15.3" text-anchor="start" font-weight="normal" fill="#231815" textLength="27.2" lengthAdjust="spacingAndGlyphs" stroke="#231815" stroke-width="0.15">2019</text>
<text x="412.30" y="375.9" font-size="15.3" text-anchor="start" font-weight="normal" fill="#231815" textLength="27.2" lengthAdjust="spacingAndGlyphs" stroke="#231815" stroke-width="0.15">2020</text>
<text x="446.00" y="375.9" font-size="15.3" text-anchor="start" font-weight="normal" fill="#231815" textLength="27.2" lengthAdjust="spacingAndGlyphs" stroke="#231815" stroke-width="0.15">2021</text>
<text x="479.70" y="375.9" font-size="15.3" text-anchor="start" font-weight="normal" fill="#231815" textLength="27.2" lengthAdjust="spacingAndGlyphs" stroke="#231815" stroke-width="0.15">2022</text>
<text x="513.40" y="375.9" font-size="15.3" text-anchor="start" font-weight="normal" fill="#231815" textLength="27.2" lengthAdjust="spacingAndGlyphs" stroke="#231815" stroke-width="0.15">2023</text>
<text x="547.10" y="375.9" font-size="15.3" text-anchor="start" font-weight="normal" fill="#231815" textLength="27.2" lengthAdjust="spacingAndGlyphs" stroke="#231815" stroke-width="0.15">2024</text>
<text x="557.3" y="66.30" font-size="10.6" text-anchor="middle" font-weight="normal" fill="#333">64.7</text>
<text x="557.3" y="90.10" font-size="10.6" text-anchor="middle" font-weight="normal" fill="#333">58.9</text>
<text x="557.3" y="114.30" font-size="10.6" text-anchor="middle" font-weight="normal" fill="#333">58.5</text>
<text x="557.3" y="153.80" font-size="10.6" text-anchor="middle" font-weight="normal" fill="#333">44.3</text>
<text x="557.3" y="210.20" font-size="10.6" text-anchor="middle" font-weight="normal" fill="#333">32.0</text>
<text x="557.3" y="242.20" font-size="10.6" text-anchor="middle" font-weight="normal" fill="#333">24.9</text>
<text x="557.3" y="264.60" font-size="10.6" text-anchor="middle" font-weight="normal" fill="#333">19.8</text>
<text x="557.3" y="287.60" font-size="10.6" text-anchor="middle" font-weight="normal" fill="#333">14.8</text>
<text x="609.60" y="41.3" font-size="14.5" text-anchor="start" font-weight="normal" fill="#231815" stroke="#231815" stroke-width="0.35">(</text>
<text x="616.90" y="41.0" font-size="14.0" text-anchor="start" font-weight="normal" fill="#231815" stroke="#231815" stroke-width="0.35">円</text>
<text x="630.60" y="41.3" font-size="14.5" text-anchor="start" font-weight="normal" fill="#231815" textLength="44.2" lengthAdjust="spacingAndGlyphs" stroke="#231815" stroke-width="0.35">/kWh</text>
<text x="675.60" y="41.3" font-size="14.5" text-anchor="start" font-weight="normal" fill="#231815" stroke="#231815" stroke-width="0.35">)</text>
<line x1="631" y1="314.50" x2="1165" y2="314.50" stroke="#dcdcdc" stroke-width="1.3"/>
<line x1="631" y1="270.25" x2="1165" y2="270.25" stroke="#dcdcdc" stroke-width="1.3"/>
<line x1="631" y1="226.00" x2="1165" y2="226.00" stroke="#dcdcdc" stroke-width="1.3"/>
<line x1="631" y1="181.75" x2="1165" y2="181.75" stroke="#dcdcdc" stroke-width="1.3"/>
<line x1="631" y1="137.50" x2="675" y2="137.50" stroke="#dcdcdc" stroke-width="1.3"/>
<line x1="897" y1="137.50" x2="1165" y2="137.50" stroke="#dcdcdc" stroke-width="1.3"/>
<line x1="631" y1="93.25" x2="1165" y2="93.25" stroke="#dcdcdc" stroke-width="1.3"/>
<line x1="631" y1="52.8" x2="1165" y2="52.8" stroke="#dcdcdc" stroke-width="1.3"/>
<text x="622" y="368.30" font-size="14" text-anchor="end" font-weight="normal" fill="#333">0</text>
<text x="622" y="324.02" font-size="14" text-anchor="end" font-weight="normal" fill="#333">10</text>
<text x="622" y="279.74" font-size="14" text-anchor="end" font-weight="normal" fill="#333">20</text>
<text x="622" y="235.46" font-size="14" text-anchor="end" font-weight="normal" fill="#333">30</text>
<text x="622" y="191.18" font-size="14" text-anchor="end" font-weight="normal" fill="#333">40</text>
<text x="622" y="146.90" font-size="14" text-anchor="end" font-weight="normal" fill="#333">50</text>
<text x="622" y="102.62" font-size="14" text-anchor="end" font-weight="normal" fill="#333">60</text>
<text x="622" y="58.34" font-size="14" text-anchor="end" font-weight="normal" fill="#333">70</text>
<text x="667.70" y="77.0" font-size="21" text-anchor="start" font-weight="bold" fill="#231815" textLength="151.5" lengthAdjust="spacingAndGlyphs" stroke="#231815" stroke-width="0.25">産業用電気料金</text>
<line x1="685.30" y1="108.0" x2="688.90" y2="108.0" stroke="#6b3a96" stroke-width="2.0"/><line x1="692.00" y1="108.0" x2="695.70" y2="108.0" stroke="#6b3a96" stroke-width="2.0"/><line x1="707.20" y1="108.0" x2="710.20" y2="108.0" stroke="#6b3a96" stroke-width="2.0"/><line x1="712.30" y1="108.0" x2="715.90" y2="108.0" stroke="#6b3a96" stroke-width="2.0"/><g transform="translate(702.00 108.00) scale(1.3)"><path d="M0.00 -2.50L2.90 2.50L-2.90 2.50Z" fill="#fff" stroke="#fff" stroke-width="3.25" stroke-linejoin="round"/><path d="M0.00 -2.50L2.90 2.50L-2.90 2.50Z" fill="#fff" stroke="#6b3a96" stroke-width="1.4" stroke-linejoin="round"/></g>
<text x="724.3" y="111.7" font-size="12.5" text-anchor="start" font-weight="normal" fill="#231815" stroke="#231815" stroke-width="0.3">ドイツ</text>
<line x1="687.00" y1="123.8" x2="689.30" y2="123.8" stroke="#2c56a1" stroke-width="2.0"/><line x1="694.20" y1="123.8" x2="697.00" y2="123.8" stroke="#2c56a1" stroke-width="2.0"/><line x1="707.00" y1="123.8" x2="709.40" y2="123.8" stroke="#2c56a1" stroke-width="2.0"/><line x1="714.00" y1="123.8" x2="716.30" y2="123.8" stroke="#2c56a1" stroke-width="2.0"/><g transform="translate(702.00 123.80) scale(1.3)"><circle cx="0.00" cy="0.00" r="2.95" fill="#fff" stroke="#fff" stroke-width="3.15"/><circle cx="0.00" cy="0.00" r="2.95" fill="#fff" stroke="#2c56a1" stroke-width="1.3"/></g>
<text x="726.3" y="127.5" font-size="12.5" text-anchor="start" font-weight="normal" fill="#231815" textLength="48.5" lengthAdjust="spacingAndGlyphs" stroke="#231815" stroke-width="0.3">イタリア</text>
<line x1="685.50" y1="140.0" x2="718.30" y2="140.0" stroke="#c0213b" stroke-width="2.0"/><g transform="translate(702.00 140.00) scale(1.3)"><rect x="-3.60" y="-3.60" width="7.2" height="7.2" fill="#fff" stroke="#fff" stroke-width="2.15"/><rect x="-3.60" y="-3.60" width="7.2" height="7.2" fill="#c0213b" stroke="#fff" stroke-width="0.3"/></g>
<text x="726.3" y="143.7" font-size="12.5" text-anchor="start" font-weight="normal" fill="#231815" stroke="#231815" stroke-width="0.3">日本</text>
<line x1="685.50" y1="156.60000000000002" x2="718.30" y2="156.60000000000002" stroke="#eaa520" stroke-width="2.0"/><g transform="translate(702.00 156.60) scale(1.3)"><circle cx="0.00" cy="0.00" r="3.5" fill="#fff" stroke="#fff" stroke-width="2.35"/><circle cx="0.00" cy="0.00" r="3.5" fill="#eaa520" stroke="#fff" stroke-width="0.5"/></g>
<text x="726.3" y="160.3" font-size="12.5" text-anchor="start" font-weight="normal" fill="#231815" stroke="#231815" stroke-width="0.3">英国</text>
<line x1="795.90" y1="108.0" x2="828.90" y2="108.0" stroke="#9cc33b" stroke-width="2.0"/><g transform="translate(812.40 108.00) scale(1.3)"><path d="M0.00 -3.80L3.90 3.30L-3.90 3.30Z" fill="#fff" stroke="#fff" stroke-width="2.15"/><path d="M0.00 -3.80L3.90 3.30L-3.90 3.30Z" fill="#9cc33b" stroke="#fff" stroke-width="0.3"/></g>
<text x="835.4" y="111.7" font-size="12.5" text-anchor="start" font-weight="normal" fill="#231815" stroke="#231815" stroke-width="0.3">フランス</text>
<line x1="795.90" y1="123.8" x2="800.20" y2="123.8" stroke="#a0237b" stroke-width="2.0"/><line x1="803.60" y1="123.8" x2="805.90" y2="123.8" stroke="#a0237b" stroke-width="2.0"/><line x1="819.20" y1="123.8" x2="821.40" y2="123.8" stroke="#a0237b" stroke-width="2.0"/><line x1="824.60" y1="123.8" x2="828.90" y2="123.8" stroke="#a0237b" stroke-width="2.0"/><g transform="translate(812.40 123.80) scale(1.3)"><path d="M0.00 -3.10L3.10 0.00L0.00 3.10L-3.10 0.00Z" fill="#fff" stroke="#fff" stroke-width="3.15"/><path d="M0.00 -3.10L3.10 0.00L0.00 3.10L-3.10 0.00Z" fill="#fff" stroke="#a0237b" stroke-width="1.3"/></g>
<text x="835.4" y="127.5" font-size="12.5" text-anchor="start" font-weight="normal" fill="#231815" stroke="#231815" stroke-width="0.3">米国</text>
<line x1="795.90" y1="140.0" x2="807.00" y2="140.0" stroke="#2489b4" stroke-width="2.0"/><line x1="820.10" y1="140.0" x2="828.90" y2="140.0" stroke="#2489b4" stroke-width="2.0"/><g transform="translate(812.40 140.00) scale(1.3)"><rect x="-2.95" y="-2.95" width="5.9" height="5.9" fill="#fff" stroke="#fff" stroke-width="3.15"/><rect x="-2.95" y="-2.95" width="5.9" height="5.9" fill="#fff" stroke="#2489b4" stroke-width="1.3"/></g>
<text x="835.4" y="143.7" font-size="12.5" text-anchor="start" font-weight="normal" fill="#231815" stroke="#231815" stroke-width="0.3">韓国</text>
<line x1="795.90" y1="156.60000000000002" x2="828.90" y2="156.60000000000002" stroke="#0f8f55" stroke-width="2.0"/><g transform="translate(812.40 156.60) scale(1.3)"><path d="M0.00 -4.10L4.10 0.00L0.00 4.10L-4.10 0.00Z" fill="#fff" stroke="#fff" stroke-width="2.15"/><path d="M0.00 -4.10L4.10 0.00L0.00 4.10L-4.10 0.00Z" fill="#0f8f55" stroke="#fff" stroke-width="0.3"/></g>
<text x="835.4" y="160.3" font-size="12.5" text-anchor="start" font-weight="normal" fill="#231815" stroke="#231815" stroke-width="0.3">台湾</text>
<line x1="680.93" y1="331.78" x2="647.40" y2="334.43" stroke="#2489b4" stroke-width="2.1" stroke-dasharray="12.5 10.8" stroke-dashoffset="0"/>
<line x1="714.46" y1="330.90" x2="680.93" y2="331.78" stroke="#2489b4" stroke-width="2.1" stroke-dasharray="12.5 10.8" stroke-dashoffset="0"/>
<line x1="747.99" y1="327.36" x2="714.46" y2="330.90" stroke="#2489b4" stroke-width="2.1" stroke-dasharray="12.5 10.8" stroke-dashoffset="0"/>
<line x1="781.52" y1="316.31" x2="747.99" y2="327.36" stroke="#2489b4" stroke-width="2.1" stroke-dasharray="12.5 10.8" stroke-dashoffset="0"/>
<line x1="815.05" y1="307.91" x2="781.52" y2="316.31" stroke="#2489b4" stroke-width="2.1" stroke-dasharray="12.5 10.8" stroke-dashoffset="0"/>
<line x1="848.58" y1="305.26" x2="815.05" y2="307.91" stroke="#2489b4" stroke-width="2.1" stroke-dasharray="12.5 10.8" stroke-dashoffset="0"/>
<line x1="882.11" y1="312.33" x2="848.58" y2="305.26" stroke="#2489b4" stroke-width="2.1" stroke-dasharray="12.5 10.8" stroke-dashoffset="0"/>
<line x1="915.64" y1="309.68" x2="882.11" y2="312.33" stroke="#2489b4" stroke-width="2.1" stroke-dasharray="12.5 10.8" stroke-dashoffset="0"/>
<line x1="949.17" y1="309.68" x2="915.64" y2="309.68" stroke="#2489b4" stroke-width="2.1" stroke-dasharray="12.5 10.8" stroke-dashoffset="0"/>
<line x1="982.70" y1="312.77" x2="949.17" y2="309.68" stroke="#2489b4" stroke-width="2.1" stroke-dasharray="12.5 10.8" stroke-dashoffset="0"/>
<line x1="1016.23" y1="313.22" x2="982.70" y2="312.77" stroke="#2489b4" stroke-width="2.1" stroke-dasharray="12.5 10.8" stroke-dashoffset="0"/>
<line x1="1049.76" y1="310.56" x2="1016.23" y2="313.22" stroke="#2489b4" stroke-width="2.1" stroke-dasharray="12.5 10.8" stroke-dashoffset="0"/>
<line x1="1083.29" y1="302.17" x2="1049.76" y2="310.56" stroke="#2489b4" stroke-width="2.1" stroke-dasharray="12.5 10.8" stroke-dashoffset="0"/>
<line x1="1116.82" y1="281.39" x2="1083.29" y2="302.17" stroke="#2489b4" stroke-width="2.1" stroke-dasharray="12.5 10.8" stroke-dashoffset="0"/>
<line x1="1150.35" y1="272.55" x2="1116.82" y2="281.39" stroke="#2489b4" stroke-width="2.1" stroke-dasharray="12.5 10.8" stroke-dashoffset="0"/>
<rect x="644.45" y="331.48" width="5.9" height="5.9" fill="#fff" stroke="#fff" stroke-width="4.10"/><rect x="644.45" y="331.48" width="5.9" height="5.9" fill="#fff" stroke="#2489b4" stroke-width="1.3"/>
<rect x="677.98" y="328.83" width="5.9" height="5.9" fill="#fff" stroke="#fff" stroke-width="4.10"/><rect x="677.98" y="328.83" width="5.9" height="5.9" fill="#fff" stroke="#2489b4" stroke-width="1.3"/>
<rect x="711.51" y="327.95" width="5.9" height="5.9" fill="#fff" stroke="#fff" stroke-width="4.10"/><rect x="711.51" y="327.95" width="5.9" height="5.9" fill="#fff" stroke="#2489b4" stroke-width="1.3"/>
<rect x="745.04" y="324.41" width="5.9" height="5.9" fill="#fff" stroke="#fff" stroke-width="4.10"/><rect x="745.04" y="324.41" width="5.9" height="5.9" fill="#fff" stroke="#2489b4" stroke-width="1.3"/>
<rect x="778.57" y="313.36" width="5.9" height="5.9" fill="#fff" stroke="#fff" stroke-width="4.10"/><rect x="778.57" y="313.36" width="5.9" height="5.9" fill="#fff" stroke="#2489b4" stroke-width="1.3"/>
<rect x="812.10" y="304.96" width="5.9" height="5.9" fill="#fff" stroke="#fff" stroke-width="4.10"/><rect x="812.10" y="304.96" width="5.9" height="5.9" fill="#fff" stroke="#2489b4" stroke-width="1.3"/>
<rect x="845.63" y="302.31" width="5.9" height="5.9" fill="#fff" stroke="#fff" stroke-width="4.10"/><rect x="845.63" y="302.31" width="5.9" height="5.9" fill="#fff" stroke="#2489b4" stroke-width="1.3"/>
<rect x="879.16" y="309.38" width="5.9" height="5.9" fill="#fff" stroke="#fff" stroke-width="4.10"/><rect x="879.16" y="309.38" width="5.9" height="5.9" fill="#fff" stroke="#2489b4" stroke-width="1.3"/>
<rect x="912.69" y="306.73" width="5.9" height="5.9" fill="#fff" stroke="#fff" stroke-width="4.10"/><rect x="912.69" y="306.73" width="5.9" height="5.9" fill="#fff" stroke="#2489b4" stroke-width="1.3"/>
<rect x="946.22" y="306.73" width="5.9" height="5.9" fill="#fff" stroke="#fff" stroke-width="4.10"/><rect x="946.22" y="306.73" width="5.9" height="5.9" fill="#fff" stroke="#2489b4" stroke-width="1.3"/>
<rect x="979.75" y="309.82" width="5.9" height="5.9" fill="#fff" stroke="#fff" stroke-width="4.10"/><rect x="979.75" y="309.82" width="5.9" height="5.9" fill="#fff" stroke="#2489b4" stroke-width="1.3"/>
<rect x="1013.28" y="310.27" width="5.9" height="5.9" fill="#fff" stroke="#fff" stroke-width="4.10"/><rect x="1013.28" y="310.27" width="5.9" height="5.9" fill="#fff" stroke="#2489b4" stroke-width="1.3"/>
<rect x="1046.81" y="307.61" width="5.9" height="5.9" fill="#fff" stroke="#fff" stroke-width="4.10"/><rect x="1046.81" y="307.61" width="5.9" height="5.9" fill="#fff" stroke="#2489b4" stroke-width="1.3"/>
<rect x="1080.34" y="299.22" width="5.9" height="5.9" fill="#fff" stroke="#fff" stroke-width="4.10"/><rect x="1080.34" y="299.22" width="5.9" height="5.9" fill="#fff" stroke="#2489b4" stroke-width="1.3"/>
<rect x="1113.87" y="278.44" width="5.9" height="5.9" fill="#fff" stroke="#fff" stroke-width="4.10"/><rect x="1113.87" y="278.44" width="5.9" height="5.9" fill="#fff" stroke="#2489b4" stroke-width="1.3"/>
<rect x="1147.40" y="269.60" width="5.9" height="5.9" fill="#fff" stroke="#fff" stroke-width="4.10"/><rect x="1147.40" y="269.60" width="5.9" height="5.9" fill="#fff" stroke="#2489b4" stroke-width="1.3"/>
<line x1="647.40" y1="331.78" x2="680.93" y2="332.66" stroke="#a0237b" stroke-width="2.1" stroke-dasharray="6.1 3.5 2.3 3.5" stroke-dashoffset="8.4"/>
<line x1="680.93" y1="332.66" x2="714.46" y2="334.43" stroke="#a0237b" stroke-width="2.1" stroke-dasharray="6.1 3.5 2.3 3.5" stroke-dashoffset="8.4"/>
<line x1="714.46" y1="334.43" x2="747.99" y2="335.32" stroke="#a0237b" stroke-width="2.1" stroke-dasharray="6.1 3.5 2.3 3.5" stroke-dashoffset="8.4"/>
<line x1="747.99" y1="335.32" x2="781.52" y2="328.24" stroke="#a0237b" stroke-width="2.1" stroke-dasharray="6.1 3.5 2.3 3.5" stroke-dashoffset="8.4"/>
<line x1="781.52" y1="328.24" x2="815.05" y2="325.59" stroke="#a0237b" stroke-width="2.1" stroke-dasharray="6.1 3.5 2.3 3.5" stroke-dashoffset="8.4"/>
<line x1="815.05" y1="325.59" x2="848.58" y2="322.06" stroke="#a0237b" stroke-width="2.1" stroke-dasharray="6.1 3.5 2.3 3.5" stroke-dashoffset="8.4"/>
<line x1="848.58" y1="322.06" x2="882.11" y2="326.03" stroke="#a0237b" stroke-width="2.1" stroke-dasharray="6.1 3.5 2.3 3.5" stroke-dashoffset="8.4"/>
<line x1="882.11" y1="326.03" x2="915.64" y2="324.27" stroke="#a0237b" stroke-width="2.1" stroke-dasharray="6.1 3.5 2.3 3.5" stroke-dashoffset="8.4"/>
<line x1="915.64" y1="324.27" x2="949.17" y2="325.15" stroke="#a0237b" stroke-width="2.1" stroke-dasharray="6.1 3.5 2.3 3.5" stroke-dashoffset="8.4"/>
<line x1="949.17" y1="325.15" x2="982.70" y2="325.59" stroke="#a0237b" stroke-width="2.1" stroke-dasharray="6.1 3.5 2.3 3.5" stroke-dashoffset="8.4"/>
<line x1="982.70" y1="325.59" x2="1016.23" y2="325.59" stroke="#a0237b" stroke-width="2.1" stroke-dasharray="6.1 3.5 2.3 3.5" stroke-dashoffset="8.4"/>
<line x1="1016.23" y1="325.59" x2="1049.76" y2="323.38" stroke="#a0237b" stroke-width="2.1" stroke-dasharray="6.1 3.5 2.3 3.5" stroke-dashoffset="8.4"/>
<line x1="1049.76" y1="323.38" x2="1083.29" y2="310.56" stroke="#a0237b" stroke-width="2.1" stroke-dasharray="6.1 3.5 2.3 3.5" stroke-dashoffset="8.4"/>
<line x1="1083.29" y1="310.56" x2="1116.82" y2="308.35" stroke="#a0237b" stroke-width="2.1" stroke-dasharray="6.1 3.5 2.3 3.5" stroke-dashoffset="8.4"/>
<line x1="1116.82" y1="308.35" x2="1150.35" y2="303.93" stroke="#a0237b" stroke-width="2.1" stroke-dasharray="6.1 3.5 2.3 3.5" stroke-dashoffset="8.4"/>
<path d="M647.40 328.68L650.50 331.78L647.40 334.88L644.30 331.78Z" fill="#fff" stroke="#fff" stroke-width="4.10"/><path d="M647.40 328.68L650.50 331.78L647.40 334.88L644.30 331.78Z" fill="#fff" stroke="#a0237b" stroke-width="1.3"/>
<path d="M680.93 329.56L684.03 332.66L680.93 335.76L677.83 332.66Z" fill="#fff" stroke="#fff" stroke-width="4.10"/><path d="M680.93 329.56L684.03 332.66L680.93 335.76L677.83 332.66Z" fill="#fff" stroke="#a0237b" stroke-width="1.3"/>
<path d="M714.46 331.33L717.56 334.43L714.46 337.53L711.36 334.43Z" fill="#fff" stroke="#fff" stroke-width="4.10"/><path d="M714.46 331.33L717.56 334.43L714.46 337.53L711.36 334.43Z" fill="#fff" stroke="#a0237b" stroke-width="1.3"/>
<path d="M747.99 332.22L751.09 335.32L747.99 338.42L744.89 335.32Z" fill="#fff" stroke="#fff" stroke-width="4.10"/><path d="M747.99 332.22L751.09 335.32L747.99 338.42L744.89 335.32Z" fill="#fff" stroke="#a0237b" stroke-width="1.3"/>
<path d="M781.52 325.14L784.62 328.24L781.52 331.34L778.42 328.24Z" fill="#fff" stroke="#fff" stroke-width="4.10"/><path d="M781.52 325.14L784.62 328.24L781.52 331.34L778.42 328.24Z" fill="#fff" stroke="#a0237b" stroke-width="1.3"/>
<path d="M815.05 322.49L818.15 325.59L815.05 328.69L811.95 325.59Z" fill="#fff" stroke="#fff" stroke-width="4.10"/><path d="M815.05 322.49L818.15 325.59L815.05 328.69L811.95 325.59Z" fill="#fff" stroke="#a0237b" stroke-width="1.3"/>
<path d="M848.58 318.96L851.68 322.06L848.58 325.16L845.48 322.06Z" fill="#fff" stroke="#fff" stroke-width="4.10"/><path d="M848.58 318.96L851.68 322.06L848.58 325.16L845.48 322.06Z" fill="#fff" stroke="#a0237b" stroke-width="1.3"/>
<path d="M882.11 322.93L885.21 326.03L882.11 329.13L879.01 326.03Z" fill="#fff" stroke="#fff" stroke-width="4.10"/><path d="M882.11 322.93L885.21 326.03L882.11 329.13L879.01 326.03Z" fill="#fff" stroke="#a0237b" stroke-width="1.3"/>
<path d="M915.64 321.17L918.74 324.27L915.64 327.37L912.54 324.27Z" fill="#fff" stroke="#fff" stroke-width="4.10"/><path d="M915.64 321.17L918.74 324.27L915.64 327.37L912.54 324.27Z" fill="#fff" stroke="#a0237b" stroke-width="1.3"/>
<path d="M949.17 322.05L952.27 325.15L949.17 328.25L946.07 325.15Z" fill="#fff" stroke="#fff" stroke-width="4.10"/><path d="M949.17 322.05L952.27 325.15L949.17 328.25L946.07 325.15Z" fill="#fff" stroke="#a0237b" stroke-width="1.3"/>
<path d="M982.70 322.49L985.80 325.59L982.70 328.69L979.60 325.59Z" fill="#fff" stroke="#fff" stroke-width="4.10"/><path d="M982.70 322.49L985.80 325.59L982.70 328.69L979.60 325.59Z" fill="#fff" stroke="#a0237b" stroke-width="1.3"/>
<path d="M1016.23 322.49L1019.33 325.59L1016.23 328.69L1013.13 325.59Z" fill="#fff" stroke="#fff" stroke-width="4.10"/><path d="M1016.23 322.49L1019.33 325.59L1016.23 328.69L1013.13 325.59Z" fill="#fff" stroke="#a0237b" stroke-width="1.3"/>
<path d="M1049.76 320.28L1052.86 323.38L1049.76 326.48L1046.66 323.38Z" fill="#fff" stroke="#fff" stroke-width="4.10"/><path d="M1049.76 320.28L1052.86 323.38L1049.76 326.48L1046.66 323.38Z" fill="#fff" stroke="#a0237b" stroke-width="1.3"/>
<path d="M1083.29 307.46L1086.39 310.56L1083.29 313.66L1080.19 310.56Z" fill="#fff" stroke="#fff" stroke-width="4.10"/><path d="M1083.29 307.46L1086.39 310.56L1083.29 313.66L1080.19 310.56Z" fill="#fff" stroke="#a0237b" stroke-width="1.3"/>
<path d="M1116.82 305.25L1119.92 308.35L1116.82 311.45L1113.72 308.35Z" fill="#fff" stroke="#fff" stroke-width="4.10"/><path d="M1116.82 305.25L1119.92 308.35L1116.82 311.45L1113.72 308.35Z" fill="#fff" stroke="#a0237b" stroke-width="1.3"/>
<path d="M1150.35 300.83L1153.45 303.93L1150.35 307.03L1147.25 303.93Z" fill="#fff" stroke="#fff" stroke-width="4.10"/><path d="M1150.35 300.83L1153.45 303.93L1150.35 307.03L1147.25 303.93Z" fill="#fff" stroke="#a0237b" stroke-width="1.3"/>
<polyline points="647.40,327.36 680.93,327.80 714.46,328.69 747.99,327.36 781.52,317.19 815.05,311.89 848.58,310.56 882.11,319.85 915.64,318.52 949.17,317.19 982.70,318.96 1016.23,317.19 1049.76,314.10 1083.29,306.14 1116.82,299.96 1150.35,276.97" fill="none" stroke="#0f8f55" stroke-width="2.1" stroke-linejoin="round"/>
<path d="M647.40 323.26L651.50 327.36L647.40 331.46L643.30 327.36Z" fill="#fff" stroke="#fff" stroke-width="3.10"/><path d="M647.40 323.26L651.50 327.36L647.40 331.46L643.30 327.36Z" fill="#0f8f55" stroke="#fff" stroke-width="0.3"/>
<path d="M680.93 323.70L685.03 327.80L680.93 331.90L676.83 327.80Z" fill="#fff" stroke="#fff" stroke-width="3.10"/><path d="M680.93 323.70L685.03 327.80L680.93 331.90L676.83 327.80Z" fill="#0f8f55" stroke="#fff" stroke-width="0.3"/>
<path d="M714.46 324.59L718.56 328.69L714.46 332.79L710.36 328.69Z" fill="#fff" stroke="#fff" stroke-width="3.10"/><path d="M714.46 324.59L718.56 328.69L714.46 332.79L710.36 328.69Z" fill="#0f8f55" stroke="#fff" stroke-width="0.3"/>
<path d="M747.99 323.26L752.09 327.36L747.99 331.46L743.89 327.36Z" fill="#fff" stroke="#fff" stroke-width="3.10"/><path d="M747.99 323.26L752.09 327.36L747.99 331.46L743.89 327.36Z" fill="#0f8f55" stroke="#fff" stroke-width="0.3"/>
<path d="M781.52 313.09L785.62 317.19L781.52 321.29L777.42 317.19Z" fill="#fff" stroke="#fff" stroke-width="3.10"/><path d="M781.52 313.09L785.62 317.19L781.52 321.29L777.42 317.19Z" fill="#0f8f55" stroke="#fff" stroke-width="0.3"/>
<path d="M815.05 307.79L819.15 311.89L815.05 315.99L810.95 311.89Z" fill="#fff" stroke="#fff" stroke-width="3.10"/><path d="M815.05 307.79L819.15 311.89L815.05 315.99L810.95 311.89Z" fill="#0f8f55" stroke="#fff" stroke-width="0.3"/>
<path d="M848.58 306.46L852.68 310.56L848.58 314.66L844.48 310.56Z" fill="#fff" stroke="#fff" stroke-width="3.10"/><path d="M848.58 306.46L852.68 310.56L848.58 314.66L844.48 310.56Z" fill="#0f8f55" stroke="#fff" stroke-width="0.3"/>
<path d="M882.11 315.75L886.21 319.85L882.11 323.95L878.01 319.85Z" fill="#fff" stroke="#fff" stroke-width="3.10"/><path d="M882.11 315.75L886.21 319.85L882.11 323.95L878.01 319.85Z" fill="#0f8f55" stroke="#fff" stroke-width="0.3"/>
<path d="M915.64 314.42L919.74 318.52L915.64 322.62L911.54 318.52Z" fill="#fff" stroke="#fff" stroke-width="3.10"/><path d="M915.64 314.42L919.74 318.52L915.64 322.62L911.54 318.52Z" fill="#0f8f55" stroke="#fff" stroke-width="0.3"/>
<path d="M949.17 313.09L953.27 317.19L949.17 321.29L945.07 317.19Z" fill="#fff" stroke="#fff" stroke-width="3.10"/><path d="M949.17 313.09L953.27 317.19L949.17 321.29L945.07 317.19Z" fill="#0f8f55" stroke="#fff" stroke-width="0.3"/>
<path d="M982.70 314.86L986.80 318.96L982.70 323.06L978.60 318.96Z" fill="#fff" stroke="#fff" stroke-width="3.10"/><path d="M982.70 314.86L986.80 318.96L982.70 323.06L978.60 318.96Z" fill="#0f8f55" stroke="#fff" stroke-width="0.3"/>
<path d="M1016.23 313.09L1020.33 317.19L1016.23 321.29L1012.13 317.19Z" fill="#fff" stroke="#fff" stroke-width="3.10"/><path d="M1016.23 313.09L1020.33 317.19L1016.23 321.29L1012.13 317.19Z" fill="#0f8f55" stroke="#fff" stroke-width="0.3"/>
<path d="M1049.76 310.00L1053.86 314.10L1049.76 318.20L1045.66 314.10Z" fill="#fff" stroke="#fff" stroke-width="3.10"/><path d="M1049.76 310.00L1053.86 314.10L1049.76 318.20L1045.66 314.10Z" fill="#0f8f55" stroke="#fff" stroke-width="0.3"/>
<path d="M1083.29 302.04L1087.39 306.14L1083.29 310.24L1079.19 306.14Z" fill="#fff" stroke="#fff" stroke-width="3.10"/><path d="M1083.29 302.04L1087.39 306.14L1083.29 310.24L1079.19 306.14Z" fill="#0f8f55" stroke="#fff" stroke-width="0.3"/>
<path d="M1116.82 295.86L1120.92 299.96L1116.82 304.06L1112.72 299.96Z" fill="#fff" stroke="#fff" stroke-width="3.10"/><path d="M1116.82 295.86L1120.92 299.96L1116.82 304.06L1112.72 299.96Z" fill="#0f8f55" stroke="#fff" stroke-width="0.3"/>
<path d="M1150.35 272.87L1154.45 276.97L1150.35 281.07L1146.25 276.97Z" fill="#fff" stroke="#fff" stroke-width="3.10"/><path d="M1150.35 272.87L1154.45 276.97L1150.35 281.07L1146.25 276.97Z" fill="#0f8f55" stroke="#fff" stroke-width="0.3"/>
<polyline points="647.40,314.98 680.93,317.19 714.46,316.75 747.99,317.19 781.52,303.05 815.05,296.86 848.58,296.42 882.11,307.03 915.64,303.49 949.17,302.17 982.70,301.28 1016.23,303.49 1049.76,297.75 1083.29,277.41 1116.82,221.28 1150.35,238.96" fill="none" stroke="#9cc33b" stroke-width="2.1" stroke-linejoin="round"/>
<path d="M647.40 311.18L651.30 318.28L643.50 318.28Z" fill="#fff" stroke="#fff" stroke-width="3.10"/><path d="M647.40 311.18L651.30 318.28L643.50 318.28Z" fill="#9cc33b" stroke="#fff" stroke-width="0.3"/>
<path d="M680.93 313.39L684.83 320.49L677.03 320.49Z" fill="#fff" stroke="#fff" stroke-width="3.10"/><path d="M680.93 313.39L684.83 320.49L677.03 320.49Z" fill="#9cc33b" stroke="#fff" stroke-width="0.3"/>
<path d="M714.46 312.95L718.36 320.05L710.56 320.05Z" fill="#fff" stroke="#fff" stroke-width="3.10"/><path d="M714.46 312.95L718.36 320.05L710.56 320.05Z" fill="#9cc33b" stroke="#fff" stroke-width="0.3"/>
<path d="M747.99 313.39L751.89 320.49L744.09 320.49Z" fill="#fff" stroke="#fff" stroke-width="3.10"/><path d="M747.99 313.39L751.89 320.49L744.09 320.49Z" fill="#9cc33b" stroke="#fff" stroke-width="0.3"/>
<path d="M781.52 299.25L785.42 306.35L777.62 306.35Z" fill="#fff" stroke="#fff" stroke-width="3.10"/><path d="M781.52 299.25L785.42 306.35L777.62 306.35Z" fill="#9cc33b" stroke="#fff" stroke-width="0.3"/>
<path d="M815.05 293.06L818.95 300.16L811.15 300.16Z" fill="#fff" stroke="#fff" stroke-width="3.10"/><path d="M815.05 293.06L818.95 300.16L811.15 300.16Z" fill="#9cc33b" stroke="#fff" stroke-width="0.3"/>
<path d="M848.58 292.62L852.48 299.72L844.68 299.72Z" fill="#fff" stroke="#fff" stroke-width="3.10"/><path d="M848.58 292.62L852.48 299.72L844.68 299.72Z" fill="#9cc33b" stroke="#fff" stroke-width="0.3"/>
<path d="M882.11 303.23L886.01 310.33L878.21 310.33Z" fill="#fff" stroke="#fff" stroke-width="3.10"/><path d="M882.11 303.23L886.01 310.33L878.21 310.33Z" fill="#9cc33b" stroke="#fff" stroke-width="0.3"/>
<path d="M915.64 299.69L919.54 306.79L911.74 306.79Z" fill="#fff" stroke="#fff" stroke-width="3.10"/><path d="M915.64 299.69L919.54 306.79L911.74 306.79Z" fill="#9cc33b" stroke="#fff" stroke-width="0.3"/>
<path d="M949.17 298.37L953.07 305.47L945.27 305.47Z" fill="#fff" stroke="#fff" stroke-width="3.10"/><path d="M949.17 298.37L953.07 305.47L945.27 305.47Z" fill="#9cc33b" stroke="#fff" stroke-width="0.3"/>
<path d="M982.70 297.48L986.60 304.58L978.80 304.58Z" fill="#fff" stroke="#fff" stroke-width="3.10"/><path d="M982.70 297.48L986.60 304.58L978.80 304.58Z" fill="#9cc33b" stroke="#fff" stroke-width="0.3"/>
<path d="M1016.23 299.69L1020.13 306.79L1012.33 306.79Z" fill="#fff" stroke="#fff" stroke-width="3.10"/><path d="M1016.23 299.69L1020.13 306.79L1012.33 306.79Z" fill="#9cc33b" stroke="#fff" stroke-width="0.3"/>
<path d="M1049.76 293.95L1053.66 301.05L1045.86 301.05Z" fill="#fff" stroke="#fff" stroke-width="3.10"/><path d="M1049.76 293.95L1053.66 301.05L1045.86 301.05Z" fill="#9cc33b" stroke="#fff" stroke-width="0.3"/>
<path d="M1083.29 273.61L1087.19 280.71L1079.39 280.71Z" fill="#fff" stroke="#fff" stroke-width="3.10"/><path d="M1083.29 273.61L1087.19 280.71L1079.39 280.71Z" fill="#9cc33b" stroke="#fff" stroke-width="0.3"/>
<path d="M1116.82 217.48L1120.72 224.58L1112.92 224.58Z" fill="#fff" stroke="#fff" stroke-width="3.10"/><path d="M1116.82 217.48L1120.72 224.58L1112.92 224.58Z" fill="#9cc33b" stroke="#fff" stroke-width="0.3"/>
<path d="M1150.35 235.16L1154.25 242.26L1146.45 242.26Z" fill="#fff" stroke="#fff" stroke-width="3.10"/><path d="M1150.35 235.16L1154.25 242.26L1146.45 242.26Z" fill="#9cc33b" stroke="#fff" stroke-width="0.3"/>
<polyline points="647.40,302.61 680.93,311.89 714.46,312.33 747.99,311.89 781.52,297.75 815.05,286.70 848.58,282.28 882.11,298.19 915.64,295.98 949.17,290.67 982.70,288.02 1016.23,285.37 1049.76,265.48 1083.29,223.49 1116.82,157.63 1150.35,141.28" fill="none" stroke="#eaa520" stroke-width="2.1" stroke-linejoin="round"/>
<circle cx="647.40" cy="302.61" r="3.5" fill="#fff" stroke="#fff" stroke-width="3.30"/><circle cx="647.40" cy="302.61" r="3.5" fill="#eaa520" stroke="#fff" stroke-width="0.5"/>
<circle cx="680.93" cy="311.89" r="3.5" fill="#fff" stroke="#fff" stroke-width="3.30"/><circle cx="680.93" cy="311.89" r="3.5" fill="#eaa520" stroke="#fff" stroke-width="0.5"/>
<circle cx="714.46" cy="312.33" r="3.5" fill="#fff" stroke="#fff" stroke-width="3.30"/><circle cx="714.46" cy="312.33" r="3.5" fill="#eaa520" stroke="#fff" stroke-width="0.5"/>
<circle cx="747.99" cy="311.89" r="3.5" fill="#fff" stroke="#fff" stroke-width="3.30"/><circle cx="747.99" cy="311.89" r="3.5" fill="#eaa520" stroke="#fff" stroke-width="0.5"/>
<circle cx="781.52" cy="297.75" r="3.5" fill="#fff" stroke="#fff" stroke-width="3.30"/><circle cx="781.52" cy="297.75" r="3.5" fill="#eaa520" stroke="#fff" stroke-width="0.5"/>
<circle cx="815.05" cy="286.70" r="3.5" fill="#fff" stroke="#fff" stroke-width="3.30"/><circle cx="815.05" cy="286.70" r="3.5" fill="#eaa520" stroke="#fff" stroke-width="0.5"/>
<circle cx="848.58" cy="282.28" r="3.5" fill="#fff" stroke="#fff" stroke-width="3.30"/><circle cx="848.58" cy="282.28" r="3.5" fill="#eaa520" stroke="#fff" stroke-width="0.5"/>
<circle cx="882.11" cy="298.19" r="3.5" fill="#fff" stroke="#fff" stroke-width="3.30"/><circle cx="882.11" cy="298.19" r="3.5" fill="#eaa520" stroke="#fff" stroke-width="0.5"/>
<circle cx="915.64" cy="295.98" r="3.5" fill="#fff" stroke="#fff" stroke-width="3.30"/><circle cx="915.64" cy="295.98" r="3.5" fill="#eaa520" stroke="#fff" stroke-width="0.5"/>
<circle cx="949.17" cy="290.67" r="3.5" fill="#fff" stroke="#fff" stroke-width="3.30"/><circle cx="949.17" cy="290.67" r="3.5" fill="#eaa520" stroke="#fff" stroke-width="0.5"/>
<circle cx="982.70" cy="288.02" r="3.5" fill="#fff" stroke="#fff" stroke-width="3.30"/><circle cx="982.70" cy="288.02" r="3.5" fill="#eaa520" stroke="#fff" stroke-width="0.5"/>
<circle cx="1016.23" cy="285.37" r="3.5" fill="#fff" stroke="#fff" stroke-width="3.30"/><circle cx="1016.23" cy="285.37" r="3.5" fill="#eaa520" stroke="#fff" stroke-width="0.5"/>
<circle cx="1049.76" cy="265.48" r="3.5" fill="#fff" stroke="#fff" stroke-width="3.30"/><circle cx="1049.76" cy="265.48" r="3.5" fill="#eaa520" stroke="#fff" stroke-width="0.5"/>
<circle cx="1083.29" cy="223.49" r="3.5" fill="#fff" stroke="#fff" stroke-width="3.30"/><circle cx="1083.29" cy="223.49" r="3.5" fill="#eaa520" stroke="#fff" stroke-width="0.5"/>
<circle cx="1116.82" cy="157.63" r="3.5" fill="#fff" stroke="#fff" stroke-width="3.30"/><circle cx="1116.82" cy="157.63" r="3.5" fill="#eaa520" stroke="#fff" stroke-width="0.5"/>
<circle cx="1150.35" cy="141.28" r="3.5" fill="#fff" stroke="#fff" stroke-width="3.30"/><circle cx="1150.35" cy="141.28" r="3.5" fill="#eaa520" stroke="#fff" stroke-width="0.5"/>
<line x1="647.40" y1="300.84" x2="680.93" y2="306.14" stroke="#6b3a96" stroke-width="2.1" stroke-dasharray="3.6 2.9" stroke-dashoffset="1.7"/>
<line x1="680.93" y1="306.14" x2="714.46" y2="303.49" stroke="#6b3a96" stroke-width="2.1" stroke-dasharray="3.6 2.9" stroke-dashoffset="1.7"/>
<line x1="714.46" y1="303.49" x2="747.99" y2="304.82" stroke="#6b3a96" stroke-width="2.1" stroke-dasharray="3.6 2.9" stroke-dashoffset="1.7"/>
<line x1="747.99" y1="304.82" x2="781.52" y2="285.81" stroke="#6b3a96" stroke-width="2.1" stroke-dasharray="3.6 2.9" stroke-dashoffset="1.7"/>
<line x1="781.52" y1="285.81" x2="815.05" y2="277.41" stroke="#6b3a96" stroke-width="2.1" stroke-dasharray="3.6 2.9" stroke-dashoffset="1.7"/>
<line x1="815.05" y1="277.41" x2="848.58" y2="279.62" stroke="#6b3a96" stroke-width="2.1" stroke-dasharray="3.6 2.9" stroke-dashoffset="1.7"/>
<line x1="848.58" y1="279.62" x2="882.11" y2="290.23" stroke="#6b3a96" stroke-width="2.1" stroke-dasharray="3.6 2.9" stroke-dashoffset="1.7"/>
<line x1="882.11" y1="290.23" x2="915.64" y2="287.58" stroke="#6b3a96" stroke-width="2.1" stroke-dasharray="3.6 2.9" stroke-dashoffset="1.7"/>
<line x1="915.64" y1="287.58" x2="949.17" y2="287.14" stroke="#6b3a96" stroke-width="2.1" stroke-dasharray="3.6 2.9" stroke-dashoffset="1.7"/>
<line x1="949.17" y1="287.14" x2="982.70" y2="286.25" stroke="#6b3a96" stroke-width="2.1" stroke-dasharray="3.6 2.9" stroke-dashoffset="1.7"/>
<line x1="982.70" y1="286.25" x2="1016.23" y2="279.62" stroke="#6b3a96" stroke-width="2.1" stroke-dasharray="3.6 2.9" stroke-dashoffset="1.7"/>
<line x1="1016.23" y1="279.62" x2="1049.76" y2="266.81" stroke="#6b3a96" stroke-width="2.1" stroke-dasharray="3.6 2.9" stroke-dashoffset="1.7"/>
<line x1="1049.76" y1="266.81" x2="1083.29" y2="238.52" stroke="#6b3a96" stroke-width="2.1" stroke-dasharray="3.6 2.9" stroke-dashoffset="1.7"/>
<line x1="1083.29" y1="238.52" x2="1116.82" y2="220.40" stroke="#6b3a96" stroke-width="2.1" stroke-dasharray="3.6 2.9" stroke-dashoffset="1.7"/>
<line x1="1116.82" y1="220.40" x2="1150.35" y2="206.25" stroke="#6b3a96" stroke-width="2.1" stroke-dasharray="3.6 2.9" stroke-dashoffset="1.7"/>
<path d="M647.40 298.34L650.30 303.34L644.50 303.34Z" fill="#fff" stroke="#fff" stroke-width="4.20" stroke-linejoin="round"/><path d="M647.40 298.34L650.30 303.34L644.50 303.34Z" fill="#fff" stroke="#6b3a96" stroke-width="1.4" stroke-linejoin="round"/>
<path d="M680.93 303.64L683.83 308.64L678.03 308.64Z" fill="#fff" stroke="#fff" stroke-width="4.20" stroke-linejoin="round"/><path d="M680.93 303.64L683.83 308.64L678.03 308.64Z" fill="#fff" stroke="#6b3a96" stroke-width="1.4" stroke-linejoin="round"/>
<path d="M714.46 300.99L717.36 305.99L711.56 305.99Z" fill="#fff" stroke="#fff" stroke-width="4.20" stroke-linejoin="round"/><path d="M714.46 300.99L717.36 305.99L711.56 305.99Z" fill="#fff" stroke="#6b3a96" stroke-width="1.4" stroke-linejoin="round"/>
<path d="M747.99 302.32L750.89 307.32L745.09 307.32Z" fill="#fff" stroke="#fff" stroke-width="4.20" stroke-linejoin="round"/><path d="M747.99 302.32L750.89 307.32L745.09 307.32Z" fill="#fff" stroke="#6b3a96" stroke-width="1.4" stroke-linejoin="round"/>
<path d="M781.52 283.31L784.42 288.31L778.62 288.31Z" fill="#fff" stroke="#fff" stroke-width="4.20" stroke-linejoin="round"/><path d="M781.52 283.31L784.42 288.31L778.62 288.31Z" fill="#fff" stroke="#6b3a96" stroke-width="1.4" stroke-linejoin="round"/>
<path d="M815.05 274.91L817.95 279.91L812.15 279.91Z" fill="#fff" stroke="#fff" stroke-width="4.20" stroke-linejoin="round"/><path d="M815.05 274.91L817.95 279.91L812.15 279.91Z" fill="#fff" stroke="#6b3a96" stroke-width="1.4" stroke-linejoin="round"/>
<path d="M848.58 277.12L851.48 282.12L845.68 282.12Z" fill="#fff" stroke="#fff" stroke-width="4.20" stroke-linejoin="round"/><path d="M848.58 277.12L851.48 282.12L845.68 282.12Z" fill="#fff" stroke="#6b3a96" stroke-width="1.4" stroke-linejoin="round"/>
<path d="M882.11 287.73L885.01 292.73L879.21 292.73Z" fill="#fff" stroke="#fff" stroke-width="4.20" stroke-linejoin="round"/><path d="M882.11 287.73L885.01 292.73L879.21 292.73Z" fill="#fff" stroke="#6b3a96" stroke-width="1.4" stroke-linejoin="round"/>
<path d="M915.64 285.08L918.54 290.08L912.74 290.08Z" fill="#fff" stroke="#fff" stroke-width="4.20" stroke-linejoin="round"/><path d="M915.64 285.08L918.54 290.08L912.74 290.08Z" fill="#fff" stroke="#6b3a96" stroke-width="1.4" stroke-linejoin="round"/>
<path d="M949.17 284.64L952.07 289.64L946.27 289.64Z" fill="#fff" stroke="#fff" stroke-width="4.20" stroke-linejoin="round"/><path d="M949.17 284.64L952.07 289.64L946.27 289.64Z" fill="#fff" stroke="#6b3a96" stroke-width="1.4" stroke-linejoin="round"/>
<path d="M982.70 283.75L985.60 288.75L979.80 288.75Z" fill="#fff" stroke="#fff" stroke-width="4.20" stroke-linejoin="round"/><path d="M982.70 283.75L985.60 288.75L979.80 288.75Z" fill="#fff" stroke="#6b3a96" stroke-width="1.4" stroke-linejoin="round"/>
<path d="M1016.23 277.12L1019.13 282.12L1013.33 282.12Z" fill="#fff" stroke="#fff" stroke-width="4.20" stroke-linejoin="round"/><path d="M1016.23 277.12L1019.13 282.12L1013.33 282.12Z" fill="#fff" stroke="#6b3a96" stroke-width="1.4" stroke-linejoin="round"/>
<path d="M1049.76 264.31L1052.66 269.31L1046.86 269.31Z" fill="#fff" stroke="#fff" stroke-width="4.20" stroke-linejoin="round"/><path d="M1049.76 264.31L1052.66 269.31L1046.86 269.31Z" fill="#fff" stroke="#6b3a96" stroke-width="1.4" stroke-linejoin="round"/>
<path d="M1083.29 236.02L1086.19 241.02L1080.39 241.02Z" fill="#fff" stroke="#fff" stroke-width="4.20" stroke-linejoin="round"/><path d="M1083.29 236.02L1086.19 241.02L1080.39 241.02Z" fill="#fff" stroke="#6b3a96" stroke-width="1.4" stroke-linejoin="round"/>
<path d="M1116.82 217.90L1119.72 222.90L1113.92 222.90Z" fill="#fff" stroke="#fff" stroke-width="4.20" stroke-linejoin="round"/><path d="M1116.82 217.90L1119.72 222.90L1113.92 222.90Z" fill="#fff" stroke="#6b3a96" stroke-width="1.4" stroke-linejoin="round"/>
<path d="M1150.35 203.75L1153.25 208.75L1147.45 208.75Z" fill="#fff" stroke="#fff" stroke-width="4.20" stroke-linejoin="round"/><path d="M1150.35 203.75L1153.25 208.75L1147.45 208.75Z" fill="#fff" stroke="#6b3a96" stroke-width="1.4" stroke-linejoin="round"/>
<polyline points="647.40,292.88 680.93,297.75 714.46,295.09 747.99,289.79 781.52,282.28 815.05,275.20 848.58,278.30 882.11,285.37 915.64,283.16 949.17,280.51 982.70,279.18 1016.23,281.83 1049.76,284.04 1083.29,255.31 1116.82,251.34 1150.35,255.31" fill="none" stroke="#c0213b" stroke-width="2.1" stroke-linejoin="round"/>
<rect x="643.80" y="289.28" width="7.2" height="7.2" fill="#fff" stroke="#fff" stroke-width="3.10"/><rect x="643.80" y="289.28" width="7.2" height="7.2" fill="#c0213b" stroke="#fff" stroke-width="0.3"/>
<rect x="677.33" y="294.15" width="7.2" height="7.2" fill="#fff" stroke="#fff" stroke-width="3.10"/><rect x="677.33" y="294.15" width="7.2" height="7.2" fill="#c0213b" stroke="#fff" stroke-width="0.3"/>
<rect x="710.86" y="291.49" width="7.2" height="7.2" fill="#fff" stroke="#fff" stroke-width="3.10"/><rect x="710.86" y="291.49" width="7.2" height="7.2" fill="#c0213b" stroke="#fff" stroke-width="0.3"/>
<rect x="744.39" y="286.19" width="7.2" height="7.2" fill="#fff" stroke="#fff" stroke-width="3.10"/><rect x="744.39" y="286.19" width="7.2" height="7.2" fill="#c0213b" stroke="#fff" stroke-width="0.3"/>
<rect x="777.92" y="278.68" width="7.2" height="7.2" fill="#fff" stroke="#fff" stroke-width="3.10"/><rect x="777.92" y="278.68" width="7.2" height="7.2" fill="#c0213b" stroke="#fff" stroke-width="0.3"/>
<rect x="811.45" y="271.60" width="7.2" height="7.2" fill="#fff" stroke="#fff" stroke-width="3.10"/><rect x="811.45" y="271.60" width="7.2" height="7.2" fill="#c0213b" stroke="#fff" stroke-width="0.3"/>
<rect x="844.98" y="274.70" width="7.2" height="7.2" fill="#fff" stroke="#fff" stroke-width="3.10"/><rect x="844.98" y="274.70" width="7.2" height="7.2" fill="#c0213b" stroke="#fff" stroke-width="0.3"/>
<rect x="878.51" y="281.77" width="7.2" height="7.2" fill="#fff" stroke="#fff" stroke-width="3.10"/><rect x="878.51" y="281.77" width="7.2" height="7.2" fill="#c0213b" stroke="#fff" stroke-width="0.3"/>
<rect x="912.04" y="279.56" width="7.2" height="7.2" fill="#fff" stroke="#fff" stroke-width="3.10"/><rect x="912.04" y="279.56" width="7.2" height="7.2" fill="#c0213b" stroke="#fff" stroke-width="0.3"/>
<rect x="945.57" y="276.91" width="7.2" height="7.2" fill="#fff" stroke="#fff" stroke-width="3.10"/><rect x="945.57" y="276.91" width="7.2" height="7.2" fill="#c0213b" stroke="#fff" stroke-width="0.3"/>
<rect x="979.10" y="275.58" width="7.2" height="7.2" fill="#fff" stroke="#fff" stroke-width="3.10"/><rect x="979.10" y="275.58" width="7.2" height="7.2" fill="#c0213b" stroke="#fff" stroke-width="0.3"/>
<rect x="1012.63" y="278.23" width="7.2" height="7.2" fill="#fff" stroke="#fff" stroke-width="3.10"/><rect x="1012.63" y="278.23" width="7.2" height="7.2" fill="#c0213b" stroke="#fff" stroke-width="0.3"/>
<rect x="1046.16" y="280.44" width="7.2" height="7.2" fill="#fff" stroke="#fff" stroke-width="3.10"/><rect x="1046.16" y="280.44" width="7.2" height="7.2" fill="#c0213b" stroke="#fff" stroke-width="0.3"/>
<rect x="1079.69" y="251.71" width="7.2" height="7.2" fill="#fff" stroke="#fff" stroke-width="3.10"/><rect x="1079.69" y="251.71" width="7.2" height="7.2" fill="#c0213b" stroke="#fff" stroke-width="0.3"/>
<rect x="1113.22" y="247.74" width="7.2" height="7.2" fill="#fff" stroke="#fff" stroke-width="3.10"/><rect x="1113.22" y="247.74" width="7.2" height="7.2" fill="#c0213b" stroke="#fff" stroke-width="0.3"/>
<rect x="1146.75" y="251.71" width="7.2" height="7.2" fill="#fff" stroke="#fff" stroke-width="3.10"/><rect x="1146.75" y="251.71" width="7.2" height="7.2" fill="#c0213b" stroke="#fff" stroke-width="0.3"/>
<line x1="680.93" y1="280.07" x2="647.40" y2="274.32" stroke="#2c56a1" stroke-width="2.1" stroke-dasharray="13.6 5.7 1.5 5.6" stroke-dashoffset="0"/>
<line x1="714.46" y1="280.95" x2="680.93" y2="280.07" stroke="#2c56a1" stroke-width="2.1" stroke-dasharray="13.6 5.7 1.5 5.6" stroke-dashoffset="0"/>
<line x1="747.99" y1="278.30" x2="714.46" y2="280.95" stroke="#2c56a1" stroke-width="2.1" stroke-dasharray="13.6 5.7 1.5 5.6" stroke-dashoffset="0"/>
<line x1="781.52" y1="255.76" x2="747.99" y2="278.30" stroke="#2c56a1" stroke-width="2.1" stroke-dasharray="13.6 5.7 1.5 5.6" stroke-dashoffset="0"/>
<line x1="815.05" y1="248.68" x2="781.52" y2="255.76" stroke="#2c56a1" stroke-width="2.1" stroke-dasharray="13.6 5.7 1.5 5.6" stroke-dashoffset="0"/>
<line x1="848.58" y1="257.97" x2="815.05" y2="248.68" stroke="#2c56a1" stroke-width="2.1" stroke-dasharray="13.6 5.7 1.5 5.6" stroke-dashoffset="0"/>
<line x1="882.11" y1="269.02" x2="848.58" y2="257.97" stroke="#2c56a1" stroke-width="2.1" stroke-dasharray="13.6 5.7 1.5 5.6" stroke-dashoffset="0"/>
<line x1="915.64" y1="270.34" x2="882.11" y2="269.02" stroke="#2c56a1" stroke-width="2.1" stroke-dasharray="13.6 5.7 1.5 5.6" stroke-dashoffset="0"/>
<line x1="949.17" y1="272.55" x2="915.64" y2="270.34" stroke="#2c56a1" stroke-width="2.1" stroke-dasharray="13.6 5.7 1.5 5.6" stroke-dashoffset="0"/>
<line x1="982.70" y1="269.02" x2="949.17" y2="272.55" stroke="#2c56a1" stroke-width="2.1" stroke-dasharray="13.6 5.7 1.5 5.6" stroke-dashoffset="0"/>
<line x1="1016.23" y1="276.53" x2="982.70" y2="269.02" stroke="#2c56a1" stroke-width="2.1" stroke-dasharray="13.6 5.7 1.5 5.6" stroke-dashoffset="0"/>
<line x1="1049.76" y1="258.85" x2="1016.23" y2="276.53" stroke="#2c56a1" stroke-width="2.1" stroke-dasharray="13.6 5.7 1.5 5.6" stroke-dashoffset="0"/>
<line x1="1083.29" y1="174.87" x2="1049.76" y2="258.85" stroke="#2c56a1" stroke-width="2.1" stroke-dasharray="13.6 5.7 1.5 5.6" stroke-dashoffset="0"/>
<line x1="1116.82" y1="189.90" x2="1083.29" y2="174.87" stroke="#2c56a1" stroke-width="2.1" stroke-dasharray="13.6 5.7 1.5 5.6" stroke-dashoffset="0"/>
<line x1="1150.35" y1="193.43" x2="1116.82" y2="189.90" stroke="#2c56a1" stroke-width="2.1" stroke-dasharray="13.6 5.7 1.5 5.6" stroke-dashoffset="0"/>
<circle cx="647.40" cy="274.32" r="2.95" fill="#fff" stroke="#fff" stroke-width="4.10"/><circle cx="647.40" cy="274.32" r="2.95" fill="#fff" stroke="#2c56a1" stroke-width="1.3"/>
<circle cx="680.93" cy="280.07" r="2.95" fill="#fff" stroke="#fff" stroke-width="4.10"/><circle cx="680.93" cy="280.07" r="2.95" fill="#fff" stroke="#2c56a1" stroke-width="1.3"/>
<circle cx="714.46" cy="280.95" r="2.95" fill="#fff" stroke="#fff" stroke-width="4.10"/><circle cx="714.46" cy="280.95" r="2.95" fill="#fff" stroke="#2c56a1" stroke-width="1.3"/>
<circle cx="747.99" cy="278.30" r="2.95" fill="#fff" stroke="#fff" stroke-width="4.10"/><circle cx="747.99" cy="278.30" r="2.95" fill="#fff" stroke="#2c56a1" stroke-width="1.3"/>
<circle cx="781.52" cy="255.76" r="2.95" fill="#fff" stroke="#fff" stroke-width="4.10"/><circle cx="781.52" cy="255.76" r="2.95" fill="#fff" stroke="#2c56a1" stroke-width="1.3"/>
<circle cx="815.05" cy="248.68" r="2.95" fill="#fff" stroke="#fff" stroke-width="4.10"/><circle cx="815.05" cy="248.68" r="2.95" fill="#fff" stroke="#2c56a1" stroke-width="1.3"/>
<circle cx="848.58" cy="257.97" r="2.95" fill="#fff" stroke="#fff" stroke-width="4.10"/><circle cx="848.58" cy="257.97" r="2.95" fill="#fff" stroke="#2c56a1" stroke-width="1.3"/>
<circle cx="882.11" cy="269.02" r="2.95" fill="#fff" stroke="#fff" stroke-width="4.10"/><circle cx="882.11" cy="269.02" r="2.95" fill="#fff" stroke="#2c56a1" stroke-width="1.3"/>
<circle cx="915.64" cy="270.34" r="2.95" fill="#fff" stroke="#fff" stroke-width="4.10"/><circle cx="915.64" cy="270.34" r="2.95" fill="#fff" stroke="#2c56a1" stroke-width="1.3"/>
<circle cx="949.17" cy="272.55" r="2.95" fill="#fff" stroke="#fff" stroke-width="4.10"/><circle cx="949.17" cy="272.55" r="2.95" fill="#fff" stroke="#2c56a1" stroke-width="1.3"/>
<circle cx="982.70" cy="269.02" r="2.95" fill="#fff" stroke="#fff" stroke-width="4.10"/><circle cx="982.70" cy="269.02" r="2.95" fill="#fff" stroke="#2c56a1" stroke-width="1.3"/>
<circle cx="1016.23" cy="276.53" r="2.95" fill="#fff" stroke="#fff" stroke-width="4.10"/><circle cx="1016.23" cy="276.53" r="2.95" fill="#fff" stroke="#2c56a1" stroke-width="1.3"/>
<circle cx="1049.76" cy="258.85" r="2.95" fill="#fff" stroke="#fff" stroke-width="4.10"/><circle cx="1049.76" cy="258.85" r="2.95" fill="#fff" stroke="#2c56a1" stroke-width="1.3"/>
<circle cx="1083.29" cy="174.87" r="2.95" fill="#fff" stroke="#fff" stroke-width="4.10"/><circle cx="1083.29" cy="174.87" r="2.95" fill="#fff" stroke="#2c56a1" stroke-width="1.3"/>
<circle cx="1116.82" cy="189.90" r="2.95" fill="#fff" stroke="#fff" stroke-width="4.10"/><circle cx="1116.82" cy="189.90" r="2.95" fill="#fff" stroke="#2c56a1" stroke-width="1.3"/>
<circle cx="1150.35" cy="193.43" r="2.95" fill="#fff" stroke="#fff" stroke-width="4.10"/><circle cx="1150.35" cy="193.43" r="2.95" fill="#fff" stroke="#2c56a1" stroke-width="1.3"/>
<line x1="631" y1="52.8" x2="631" y2="359.7" stroke="#4a4a4a" stroke-width="1.8"/>
<line x1="630.1" y1="358.8" x2="1165.6" y2="358.8" stroke="#383838" stroke-width="2.0"/>
<line x1="664.40" y1="355.6" x2="664.40" y2="358.8" stroke="#3c3c3c" stroke-width="1.8"/>
<line x1="697.80" y1="355.6" x2="697.80" y2="358.8" stroke="#3c3c3c" stroke-width="1.8"/>
<line x1="731.20" y1="355.6" x2="731.20" y2="358.8" stroke="#3c3c3c" stroke-width="1.8"/>
<line x1="764.60" y1="355.6" x2="764.60" y2="358.8" stroke="#3c3c3c" stroke-width="1.8"/>
<line x1="798.00" y1="355.6" x2="798.00" y2="358.8" stroke="#3c3c3c" stroke-width="1.8"/>
<line x1="831.40" y1="355.6" x2="831.40" y2="358.8" stroke="#3c3c3c" stroke-width="1.8"/>
<line x1="864.80" y1="355.6" x2="864.80" y2="358.8" stroke="#3c3c3c" stroke-width="1.8"/>
<line x1="898.20" y1="355.6" x2="898.20" y2="358.8" stroke="#3c3c3c" stroke-width="1.8"/>
<line x1="931.60" y1="355.6" x2="931.60" y2="358.8" stroke="#3c3c3c" stroke-width="1.8"/>
<line x1="965.00" y1="355.6" x2="965.00" y2="358.8" stroke="#3c3c3c" stroke-width="1.8"/>
<line x1="998.40" y1="355.6" x2="998.40" y2="358.8" stroke="#3c3c3c" stroke-width="1.8"/>
<line x1="1031.80" y1="355.6" x2="1031.80" y2="358.8" stroke="#3c3c3c" stroke-width="1.8"/>
<line x1="1065.20" y1="355.6" x2="1065.20" y2="358.8" stroke="#3c3c3c" stroke-width="1.8"/>
<line x1="1098.60" y1="355.6" x2="1098.60" y2="358.8" stroke="#3c3c3c" stroke-width="1.8"/>
<line x1="1132.00" y1="355.6" x2="1132.00" y2="358.8" stroke="#3c3c3c" stroke-width="1.8"/>
<line x1="1165.40" y1="355.6" x2="1165.40" y2="358.8" stroke="#3c3c3c" stroke-width="1.8"/>
<text x="632.60" y="375.9" font-size="15.3" text-anchor="start" font-weight="normal" fill="#231815" textLength="27.2" lengthAdjust="spacingAndGlyphs" stroke="#231815" stroke-width="0.15">2009</text>
<text x="666.30" y="375.9" font-size="15.3" text-anchor="start" font-weight="normal" fill="#231815" textLength="27.2" lengthAdjust="spacingAndGlyphs" stroke="#231815" stroke-width="0.15">2010</text>
<text x="700.00" y="375.9" font-size="15.3" text-anchor="start" font-weight="normal" fill="#231815" textLength="27.2" lengthAdjust="spacingAndGlyphs" stroke="#231815" stroke-width="0.15">2011</text>
<text x="733.70" y="375.9" font-size="15.3" text-anchor="start" font-weight="normal" fill="#231815" textLength="27.2" lengthAdjust="spacingAndGlyphs" stroke="#231815" stroke-width="0.15">2012</text>
<text x="767.40" y="375.9" font-size="15.3" text-anchor="start" font-weight="normal" fill="#231815" textLength="27.2" lengthAdjust="spacingAndGlyphs" stroke="#231815" stroke-width="0.15">2013</text>
<text x="801.10" y="375.9" font-size="15.3" text-anchor="start" font-weight="normal" fill="#231815" textLength="27.2" lengthAdjust="spacingAndGlyphs" stroke="#231815" stroke-width="0.15">2014</text>
<text x="834.80" y="375.9" font-size="15.3" text-anchor="start" font-weight="normal" fill="#231815" textLength="27.2" lengthAdjust="spacingAndGlyphs" stroke="#231815" stroke-width="0.15">2015</text>
<text x="868.50" y="375.9" font-size="15.3" text-anchor="start" font-weight="normal" fill="#231815" textLength="27.2" lengthAdjust="spacingAndGlyphs" stroke="#231815" stroke-width="0.15">2016</text>
<text x="902.20" y="375.9" font-size="15.3" text-anchor="start" font-weight="normal" fill="#231815" textLength="27.2" lengthAdjust="spacingAndGlyphs" stroke="#231815" stroke-width="0.15">2017</text>
<text x="935.90" y="375.9" font-size="15.3" text-anchor="start" font-weight="normal" fill="#231815" textLength="27.2" lengthAdjust="spacingAndGlyphs" stroke="#231815" stroke-width="0.15">2018</text>
<text x="969.60" y="375.9" font-size="15.3" text-anchor="start" font-weight="normal" fill="#231815" textLength="27.2" lengthAdjust="spacingAndGlyphs" stroke="#231815" stroke-width="0.15">2019</text>
<text x="1003.30" y="375.9" font-size="15.3" text-anchor="start" font-weight="normal" fill="#231815" textLength="27.2" lengthAdjust="spacingAndGlyphs" stroke="#231815" stroke-width="0.15">2020</text>
<text x="1037.00" y="375.9" font-size="15.3" text-anchor="start" font-weight="normal" fill="#231815" textLength="27.2" lengthAdjust="spacingAndGlyphs" stroke="#231815" stroke-width="0.15">2021</text>
<text x="1070.70" y="375.9" font-size="15.3" text-anchor="start" font-weight="normal" fill="#231815" textLength="27.2" lengthAdjust="spacingAndGlyphs" stroke="#231815" stroke-width="0.15">2022</text>
<text x="1104.40" y="375.9" font-size="15.3" text-anchor="start" font-weight="normal" fill="#231815" textLength="27.2" lengthAdjust="spacingAndGlyphs" stroke="#231815" stroke-width="0.15">2023</text>
<text x="1138.10" y="375.9" font-size="15.3" text-anchor="start" font-weight="normal" fill="#231815" textLength="27.2" lengthAdjust="spacingAndGlyphs" stroke="#231815" stroke-width="0.15">2024</text>
<text x="1149.2" y="133.20" font-size="10.6" text-anchor="middle" font-weight="normal" fill="#333">49.1</text>
<text x="1149.2" y="188.20" font-size="10.6" text-anchor="middle" font-weight="normal" fill="#333">37.3</text>
<text x="1149.2" y="220.00" font-size="10.6" text-anchor="middle" font-weight="normal" fill="#333">34.1</text>
<text x="1149.2" y="234.30" font-size="10.6" text-anchor="middle" font-weight="normal" fill="#333">27.0</text>
<text x="1149.2" y="251.90" font-size="10.6" text-anchor="middle" font-weight="normal" fill="#333">23.3</text>
<text x="1149.2" y="268.00" font-size="10.6" text-anchor="middle" font-weight="normal" fill="#333">19.4</text>
<text x="1149.2" y="291.00" font-size="10.6" text-anchor="middle" font-weight="normal" fill="#333">18.4</text>
<text x="1149.2" y="317.80" font-size="10.6" text-anchor="middle" font-weight="normal" fill="#333">12.3</text>
</svg>
</body></html>
